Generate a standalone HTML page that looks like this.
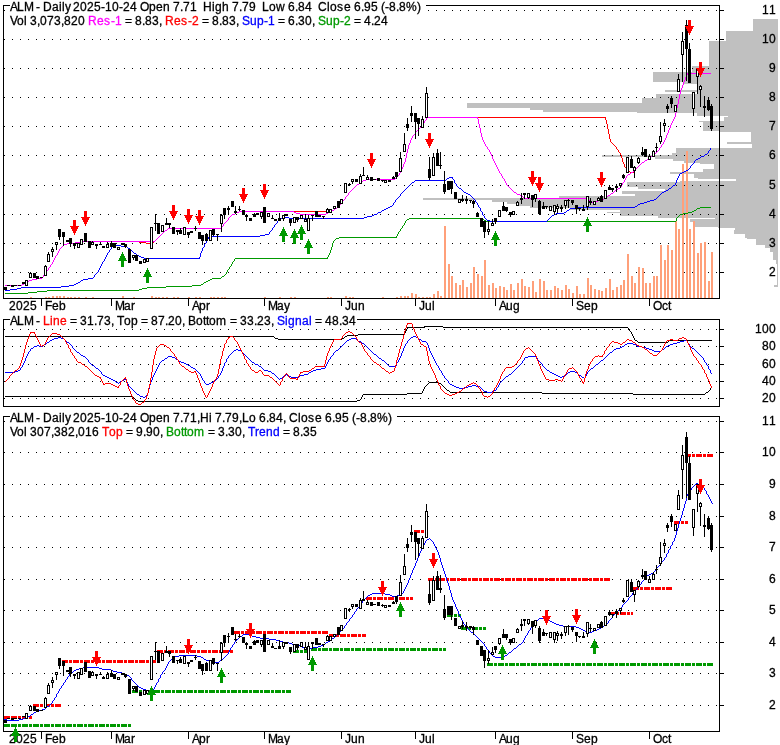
<!DOCTYPE html><html><head><meta charset="utf-8"><title>ALM</title><style>html,body{margin:0;padding:0;background:#fff}svg{display:block}text{white-space:pre;stroke-width:0.3px}</style></head><body><svg width="780" height="745" viewBox="0 0 780 745" shape-rendering="crispEdges" font-family="Liberation Sans, sans-serif" font-size="12px" fill="#000">
<rect x="0" y="0" width="780" height="745" fill="#fff"/>
<rect x="753" y="19" width="25" height="12" fill="#c0c0c0"/>
<rect x="726" y="31" width="52" height="10" fill="#c0c0c0"/>
<rect x="709" y="41" width="69" height="25" fill="#c0c0c0"/>
<rect x="692" y="66" width="86" height="6" fill="#c0c0c0"/>
<rect x="653" y="72" width="125" height="10" fill="#c0c0c0"/>
<rect x="683" y="82" width="95" height="2" fill="#c0c0c0"/>
<rect x="697" y="84" width="81" height="6" fill="#c0c0c0"/>
<rect x="665" y="90" width="113" height="2" fill="#c0c0c0"/>
<rect x="697" y="92" width="81" height="2" fill="#c0c0c0"/>
<rect x="656" y="94" width="122" height="4" fill="#c0c0c0"/>
<rect x="642" y="98" width="136" height="5" fill="#c0c0c0"/>
<rect x="467" y="103" width="311" height="5" fill="#c0c0c0"/>
<rect x="530" y="108" width="248" height="2" fill="#c0c0c0"/>
<rect x="543" y="110" width="235" height="2" fill="#c0c0c0"/>
<rect x="637" y="112" width="141" height="1" fill="#c0c0c0"/>
<rect x="697" y="113" width="81" height="3" fill="#c0c0c0"/>
<rect x="728" y="116" width="50" height="1" fill="#c0c0c0"/>
<rect x="724" y="117" width="54" height="4" fill="#c0c0c0"/>
<rect x="699" y="121" width="79" height="1" fill="#c0c0c0"/>
<rect x="703" y="122" width="75" height="9" fill="#c0c0c0"/>
<rect x="720" y="131" width="58" height="1" fill="#c0c0c0"/>
<rect x="751" y="132" width="27" height="10" fill="#c0c0c0"/>
<rect x="727" y="142" width="51" height="2" fill="#c0c0c0"/>
<rect x="752" y="144" width="26" height="4" fill="#c0c0c0"/>
<rect x="676" y="148" width="102" height="5" fill="#c0c0c0"/>
<rect x="672" y="153" width="106" height="2" fill="#c0c0c0"/>
<rect x="602" y="155" width="176" height="2" fill="#c0c0c0"/>
<rect x="655" y="157" width="123" height="2" fill="#c0c0c0"/>
<rect x="673" y="159" width="105" height="2" fill="#c0c0c0"/>
<rect x="684" y="161" width="94" height="2" fill="#c0c0c0"/>
<rect x="700" y="163" width="78" height="1" fill="#c0c0c0"/>
<rect x="714" y="164" width="64" height="5" fill="#c0c0c0"/>
<rect x="703" y="169" width="75" height="3" fill="#c0c0c0"/>
<rect x="670" y="172" width="108" height="2" fill="#c0c0c0"/>
<rect x="694" y="174" width="84" height="4" fill="#c0c0c0"/>
<rect x="698" y="178" width="80" height="1" fill="#c0c0c0"/>
<rect x="736" y="179" width="42" height="2" fill="#c0c0c0"/>
<rect x="680" y="181" width="98" height="1" fill="#c0c0c0"/>
<rect x="627" y="182" width="151" height="5" fill="#c0c0c0"/>
<rect x="638" y="187" width="140" height="2" fill="#c0c0c0"/>
<rect x="665" y="189" width="113" height="2" fill="#c0c0c0"/>
<rect x="622" y="191" width="156" height="3" fill="#c0c0c0"/>
<rect x="635" y="194" width="143" height="2" fill="#c0c0c0"/>
<rect x="559" y="196" width="219" height="2" fill="#c0c0c0"/>
<rect x="423" y="198" width="355" height="2" fill="#c0c0c0"/>
<rect x="492" y="200" width="286" height="2" fill="#c0c0c0"/>
<rect x="507" y="202" width="271" height="2" fill="#c0c0c0"/>
<rect x="516" y="204" width="262" height="2" fill="#c0c0c0"/>
<rect x="530" y="206" width="248" height="2" fill="#c0c0c0"/>
<rect x="570" y="208" width="208" height="2" fill="#c0c0c0"/>
<rect x="620" y="210" width="158" height="2" fill="#c0c0c0"/>
<rect x="607" y="212" width="171" height="1" fill="#c0c0c0"/>
<rect x="620" y="213" width="158" height="3" fill="#c0c0c0"/>
<rect x="658" y="216" width="120" height="2" fill="#c0c0c0"/>
<rect x="715" y="218" width="63" height="1" fill="#c0c0c0"/>
<rect x="690" y="219" width="88" height="3" fill="#c0c0c0"/>
<rect x="695" y="222" width="83" height="5" fill="#c0c0c0"/>
<rect x="718" y="227" width="60" height="1" fill="#c0c0c0"/>
<rect x="735" y="228" width="43" height="2" fill="#c0c0c0"/>
<rect x="734" y="230" width="44" height="4" fill="#c0c0c0"/>
<rect x="745" y="234" width="33" height="4" fill="#c0c0c0"/>
<rect x="747" y="238" width="31" height="1" fill="#c0c0c0"/>
<rect x="756" y="239" width="22" height="6" fill="#c0c0c0"/>
<rect x="765" y="245" width="13" height="3" fill="#c0c0c0"/>
<rect x="770" y="248" width="8" height="4" fill="#c0c0c0"/>
<rect x="773" y="252" width="5" height="8" fill="#c0c0c0"/>
<rect x="776" y="260" width="2" height="4" fill="#c0c0c0"/>
<rect x="777" y="264" width="1" height="21" fill="#c0c0c0"/>
<rect x="774" y="285" width="4" height="2" fill="#c0c0c0"/>
<line x1="4" y1="10.5" x2="719" y2="10.5" stroke="#000" stroke-width="1" stroke-dasharray="1 7"/>
<rect x="720" y="10" width="4" height="1" fill="#000"/>
<line x1="4" y1="39.5" x2="719" y2="39.5" stroke="#000" stroke-width="1" stroke-dasharray="1 7"/>
<rect x="720" y="39" width="4" height="1" fill="#000"/>
<line x1="4" y1="68.5" x2="719" y2="68.5" stroke="#000" stroke-width="1" stroke-dasharray="1 7"/>
<rect x="720" y="68" width="4" height="1" fill="#000"/>
<line x1="4" y1="97.5" x2="719" y2="97.5" stroke="#000" stroke-width="1" stroke-dasharray="1 7"/>
<rect x="720" y="97" width="4" height="1" fill="#000"/>
<line x1="4" y1="126.5" x2="719" y2="126.5" stroke="#000" stroke-width="1" stroke-dasharray="1 7"/>
<rect x="720" y="126" width="4" height="1" fill="#000"/>
<line x1="4" y1="155.5" x2="719" y2="155.5" stroke="#000" stroke-width="1" stroke-dasharray="1 7"/>
<rect x="720" y="155" width="4" height="1" fill="#000"/>
<line x1="4" y1="185.5" x2="719" y2="185.5" stroke="#000" stroke-width="1" stroke-dasharray="1 7"/>
<rect x="720" y="185" width="4" height="1" fill="#000"/>
<line x1="4" y1="214.5" x2="719" y2="214.5" stroke="#000" stroke-width="1" stroke-dasharray="1 7"/>
<rect x="720" y="214" width="4" height="1" fill="#000"/>
<line x1="4" y1="243.5" x2="719" y2="243.5" stroke="#000" stroke-width="1" stroke-dasharray="1 7"/>
<rect x="720" y="243" width="4" height="1" fill="#000"/>
<line x1="4" y1="272.5" x2="719" y2="272.5" stroke="#000" stroke-width="1" stroke-dasharray="1 7"/>
<rect x="720" y="272" width="4" height="1" fill="#000"/>
<rect x="400" y="296" width="2" height="2" fill="#ffa07a"/>
<rect x="404" y="296" width="2" height="2" fill="#ffa07a"/>
<rect x="407" y="296" width="2" height="2" fill="#ffa07a"/>
<rect x="411" y="293" width="2" height="5" fill="#ffa07a"/>
<rect x="415" y="294" width="2" height="4" fill="#ffa07a"/>
<rect x="418" y="297" width="2" height="1" fill="#ffa07a"/>
<rect x="422" y="297" width="2" height="1" fill="#ffa07a"/>
<rect x="426" y="297" width="2" height="1" fill="#ffa07a"/>
<rect x="429" y="297" width="2" height="1" fill="#ffa07a"/>
<rect x="433" y="294" width="2" height="4" fill="#ffa07a"/>
<rect x="437" y="291" width="2" height="7" fill="#ffa07a"/>
<rect x="440" y="296" width="2" height="2" fill="#ffa07a"/>
<rect x="444" y="226" width="2" height="72" fill="#ffa07a"/>
<rect x="448" y="264" width="2" height="34" fill="#ffa07a"/>
<rect x="451" y="276" width="2" height="22" fill="#ffa07a"/>
<rect x="455" y="283" width="2" height="15" fill="#ffa07a"/>
<rect x="459" y="285" width="2" height="13" fill="#ffa07a"/>
<rect x="462" y="280" width="2" height="18" fill="#ffa07a"/>
<rect x="466" y="287" width="2" height="11" fill="#ffa07a"/>
<rect x="470" y="283" width="2" height="15" fill="#ffa07a"/>
<rect x="473" y="267" width="2" height="31" fill="#ffa07a"/>
<rect x="477" y="274" width="2" height="24" fill="#ffa07a"/>
<rect x="481" y="276" width="2" height="22" fill="#ffa07a"/>
<rect x="484" y="260" width="2" height="38" fill="#ffa07a"/>
<rect x="488" y="285" width="2" height="13" fill="#ffa07a"/>
<rect x="492" y="283" width="2" height="15" fill="#ffa07a"/>
<rect x="495" y="288" width="2" height="10" fill="#ffa07a"/>
<rect x="499" y="286" width="2" height="12" fill="#ffa07a"/>
<rect x="503" y="287" width="2" height="11" fill="#ffa07a"/>
<rect x="506" y="290" width="2" height="8" fill="#ffa07a"/>
<rect x="510" y="284" width="2" height="14" fill="#ffa07a"/>
<rect x="513" y="290" width="2" height="8" fill="#ffa07a"/>
<rect x="517" y="283" width="2" height="15" fill="#ffa07a"/>
<rect x="521" y="279" width="2" height="19" fill="#ffa07a"/>
<rect x="524" y="286" width="2" height="12" fill="#ffa07a"/>
<rect x="528" y="287" width="2" height="11" fill="#ffa07a"/>
<rect x="532" y="281" width="2" height="17" fill="#ffa07a"/>
<rect x="535" y="292" width="2" height="6" fill="#ffa07a"/>
<rect x="539" y="279" width="2" height="19" fill="#ffa07a"/>
<rect x="543" y="281" width="2" height="17" fill="#ffa07a"/>
<rect x="546" y="290" width="2" height="8" fill="#ffa07a"/>
<rect x="550" y="290" width="2" height="8" fill="#ffa07a"/>
<rect x="554" y="286" width="2" height="12" fill="#ffa07a"/>
<rect x="557" y="288" width="2" height="10" fill="#ffa07a"/>
<rect x="561" y="290" width="2" height="8" fill="#ffa07a"/>
<rect x="565" y="285" width="2" height="13" fill="#ffa07a"/>
<rect x="568" y="289" width="2" height="9" fill="#ffa07a"/>
<rect x="572" y="293" width="2" height="5" fill="#ffa07a"/>
<rect x="576" y="286" width="2" height="12" fill="#ffa07a"/>
<rect x="579" y="294" width="2" height="4" fill="#ffa07a"/>
<rect x="583" y="294" width="2" height="4" fill="#ffa07a"/>
<rect x="587" y="278" width="2" height="20" fill="#ffa07a"/>
<rect x="590" y="285" width="2" height="13" fill="#ffa07a"/>
<rect x="594" y="289" width="2" height="9" fill="#ffa07a"/>
<rect x="598" y="290" width="2" height="8" fill="#ffa07a"/>
<rect x="601" y="291" width="2" height="7" fill="#ffa07a"/>
<rect x="605" y="288" width="2" height="10" fill="#ffa07a"/>
<rect x="609" y="279" width="2" height="19" fill="#ffa07a"/>
<rect x="612" y="290" width="2" height="8" fill="#ffa07a"/>
<rect x="616" y="287" width="2" height="11" fill="#ffa07a"/>
<rect x="620" y="285" width="2" height="13" fill="#ffa07a"/>
<rect x="623" y="280" width="2" height="18" fill="#ffa07a"/>
<rect x="627" y="254" width="2" height="44" fill="#ffa07a"/>
<rect x="631" y="276" width="2" height="22" fill="#ffa07a"/>
<rect x="634" y="283" width="2" height="15" fill="#ffa07a"/>
<rect x="638" y="267" width="2" height="31" fill="#ffa07a"/>
<rect x="642" y="268" width="2" height="30" fill="#ffa07a"/>
<rect x="645" y="283" width="2" height="15" fill="#ffa07a"/>
<rect x="649" y="283" width="2" height="15" fill="#ffa07a"/>
<rect x="653" y="276" width="2" height="22" fill="#ffa07a"/>
<rect x="656" y="276" width="2" height="22" fill="#ffa07a"/>
<rect x="660" y="245" width="2" height="53" fill="#ffa07a"/>
<rect x="664" y="260" width="2" height="38" fill="#ffa07a"/>
<rect x="667" y="245" width="2" height="53" fill="#ffa07a"/>
<rect x="671" y="250" width="2" height="48" fill="#ffa07a"/>
<rect x="675" y="221" width="2" height="77" fill="#ffa07a"/>
<rect x="678" y="229" width="2" height="69" fill="#ffa07a"/>
<rect x="682" y="164" width="2" height="134" fill="#ffa07a"/>
<rect x="686" y="151" width="2" height="147" fill="#ffa07a"/>
<rect x="689" y="229" width="2" height="69" fill="#ffa07a"/>
<rect x="693" y="221" width="2" height="77" fill="#ffa07a"/>
<rect x="697" y="253" width="2" height="45" fill="#ffa07a"/>
<rect x="700" y="243" width="2" height="55" fill="#ffa07a"/>
<rect x="704" y="242" width="2" height="56" fill="#ffa07a"/>
<rect x="708" y="281" width="2" height="17" fill="#ffa07a"/>
<rect x="711" y="252" width="2" height="46" fill="#ffa07a"/>
<rect x="30" y="297" width="2" height="1" fill="#ffa07a"/>
<rect x="45" y="297" width="2" height="1" fill="#ffa07a"/>
<rect x="48" y="297" width="2" height="1" fill="#ffa07a"/>
<rect x="52" y="296" width="2" height="2" fill="#ffa07a"/>
<rect x="56" y="296" width="2" height="2" fill="#ffa07a"/>
<rect x="59" y="296" width="2" height="2" fill="#ffa07a"/>
<rect x="63" y="296" width="2" height="2" fill="#ffa07a"/>
<rect x="67" y="297" width="2" height="1" fill="#ffa07a"/>
<rect x="70" y="297" width="2" height="1" fill="#ffa07a"/>
<rect x="74" y="297" width="2" height="1" fill="#ffa07a"/>
<rect x="78" y="297" width="2" height="1" fill="#ffa07a"/>
<rect x="85" y="297" width="2" height="1" fill="#ffa07a"/>
<rect x="92" y="297" width="2" height="1" fill="#ffa07a"/>
<rect x="122" y="296" width="2" height="2" fill="#ffa07a"/>
<rect x="133" y="297" width="2" height="1" fill="#ffa07a"/>
<rect x="151" y="296" width="2" height="2" fill="#ffa07a"/>
<rect x="155" y="297" width="2" height="1" fill="#ffa07a"/>
<rect x="158" y="297" width="2" height="1" fill="#ffa07a"/>
<rect x="162" y="297" width="2" height="1" fill="#ffa07a"/>
<rect x="166" y="297" width="2" height="1" fill="#ffa07a"/>
<rect x="173" y="297" width="2" height="1" fill="#ffa07a"/>
<rect x="177" y="297" width="2" height="1" fill="#ffa07a"/>
<rect x="188" y="297" width="2" height="1" fill="#ffa07a"/>
<rect x="195" y="297" width="2" height="1" fill="#ffa07a"/>
<rect x="199" y="297" width="2" height="1" fill="#ffa07a"/>
<rect x="210" y="297" width="2" height="1" fill="#ffa07a"/>
<rect x="213" y="297" width="2" height="1" fill="#ffa07a"/>
<rect x="217" y="297" width="2" height="1" fill="#ffa07a"/>
<rect x="221" y="297" width="2" height="1" fill="#ffa07a"/>
<rect x="224" y="297" width="2" height="1" fill="#ffa07a"/>
<rect x="264" y="297" width="2" height="1" fill="#ffa07a"/>
<rect x="279" y="297" width="2" height="1" fill="#ffa07a"/>
<rect x="290" y="297" width="2" height="1" fill="#ffa07a"/>
<rect x="294" y="297" width="2" height="1" fill="#ffa07a"/>
<rect x="327" y="297" width="2" height="1" fill="#ffa07a"/>
<rect x="330" y="297" width="2" height="1" fill="#ffa07a"/>
<rect x="345" y="296" width="2" height="2" fill="#ffa07a"/>
<rect x="349" y="297" width="2" height="1" fill="#ffa07a"/>
<rect x="352" y="297" width="2" height="1" fill="#ffa07a"/>
<rect x="382" y="297" width="2" height="1" fill="#ffa07a"/>
<rect x="396" y="297" width="2" height="1" fill="#ffa07a"/>
<path fill="#009900" d="M5 293h23v1h-23zM28 292h9v1h-9zM37 291h10v1h-10zM47 290h92v1h-92zM139 289h3v1h-3zM142 288h5v1h-5zM147 287h19v1h-19zM166 286h26v1h-26zM192 285h9v1h-9zM201 284h2v1h-2zM203 283h1v1h-1zM204 282h2v1h-2zM206 281h2v1h-2zM208 280h2v1h-2zM210 279h2v1h-2zM212 278h9v1h-9zM221 277h1v1h-1zM222 276h2v1h-2zM224 275h1v1h-1zM225 274h1v1h-1zM226 272h1v2h-1zM227 270h1v2h-1zM228 269h1v1h-1zM229 267h1v2h-1zM230 266h1v1h-1zM231 264h1v2h-1zM232 262h1v2h-1zM233 261h1v1h-1zM234 259h1v2h-1zM235 258h93v1h-93zM327 257h1v1h-1zM328 255h1v2h-1zM329 253h1v2h-1zM330 250h1v3h-1zM331 247h1v3h-1zM332 243h1v4h-1zM333 241h1v2h-1zM334 240h1v1h-1zM335 239h1v1h-1zM336 238h3v1h-3zM339 237h58v1h-58zM396 236h1v1h-1zM397 234h1v2h-1zM398 232h1v2h-1zM399 231h1v1h-1zM400 229h1v2h-1zM401 228h1v1h-1zM402 226h1v2h-1zM403 225h1v1h-1zM404 223h1v2h-1zM405 221h1v2h-1zM406 220h1v1h-1zM407 219h2v1h-2zM409 218h73v1h-73zM482 219h2v1h-2zM484 220h2v1h-2zM486 221h190v1h-190zM676 218h1v3h-1zM677 217h1v1h-1zM678 216h1v1h-1zM679 215h1v1h-1zM680 214h3v1h-3zM683 213h5v1h-5zM688 212h4v1h-4zM692 211h2v1h-2zM694 210h2v1h-2zM696 209h1v1h-1zM697 208h3v1h-3zM700 207h11v1h-11z"/>
<path fill="#0000ff" d="M5 290h5v1h-5zM10 289h7v1h-7zM17 288h4v1h-4zM21 287h40v1h-40zM61 286h8v1h-8zM69 285h5v1h-5zM74 284h2v1h-2zM76 283h2v1h-2zM78 282h2v1h-2zM80 281h1v1h-1zM81 280h2v1h-2zM83 279h5v1h-5zM88 278h5v1h-5zM93 277h1v1h-1zM94 275h1v2h-1zM95 274h1v1h-1zM96 273h1v1h-1zM97 272h1v1h-1zM98 270h1v2h-1zM99 268h1v2h-1zM100 266h1v2h-1zM101 264h1v2h-1zM102 262h1v2h-1zM103 261h1v1h-1zM104 259h1v2h-1zM105 257h1v2h-1zM106 255h1v2h-1zM107 253h1v2h-1zM108 252h1v1h-1zM109 250h1v2h-1zM110 249h1v1h-1zM111 247h1v2h-1zM112 246h3v1h-3zM115 245h6v1h-6zM121 246h6v1h-6zM127 247h1v1h-1zM128 248h2v1h-2zM130 249h1v1h-1zM131 250h1v1h-1zM132 251h1v1h-1zM133 252h1v1h-1zM134 253h2v1h-2zM136 254h1v1h-1zM137 255h2v1h-2zM139 256h2v1h-2zM141 257h3v1h-3zM144 258h56v1h-56zM199 257h1v1h-1zM200 253h1v4h-1zM201 251h1v2h-1zM202 248h1v3h-1zM203 247h1v1h-1zM204 244h1v3h-1zM205 243h1v1h-1zM206 240h1v3h-1zM207 239h1v1h-1zM208 238h1v1h-1zM208 237h2v1h-2zM210 236h50v1h-50zM260 235h5v1h-5zM265 234h4v1h-4zM269 232h1v2h-1zM270 231h1v1h-1zM271 230h1v1h-1zM272 228h1v2h-1zM273 227h1v1h-1zM274 225h1v2h-1zM275 224h1v1h-1zM276 223h1v1h-1zM277 221h1v2h-1zM278 220h1v1h-1zM279 219h2v1h-2zM281 218h4v1h-4zM285 217h4v1h-4zM289 218h75v1h-75zM364 217h3v1h-3zM367 216h5v1h-5zM372 215h2v1h-2zM374 214h3v1h-3zM377 213h1v1h-1zM378 212h3v1h-3zM381 211h1v1h-1zM382 210h2v1h-2zM384 209h2v1h-2zM386 208h2v1h-2zM388 207h2v1h-2zM390 206h2v1h-2zM392 205h1v1h-1zM393 203h1v2h-1zM394 202h1v1h-1zM395 200h1v2h-1zM396 199h1v1h-1zM397 198h1v1h-1zM398 197h1v1h-1zM399 196h1v1h-1zM400 194h1v2h-1zM401 193h1v1h-1zM402 192h1v1h-1zM403 191h1v1h-1zM404 190h1v1h-1zM405 189h1v1h-1zM406 188h1v1h-1zM407 187h1v1h-1zM408 186h1v1h-1zM409 185h1v1h-1zM410 184h1v1h-1zM411 183h1v1h-1zM412 182h2v1h-2zM414 181h1v1h-1zM415 180h31v1h-31zM446 179h1v1h-1zM447 178h2v1h-2zM449 177h4v1h-4zM452 178h1v1h-1zM453 179h1v1h-1zM454 180h1v3h-1zM455 183h1v1h-1zM456 184h1v2h-1zM457 186h1v1h-1zM458 187h1v1h-1zM459 188h2v1h-2zM461 189h1v1h-1zM462 190h1v1h-1zM463 191h1v1h-1zM464 192h2v1h-2zM466 193h2v1h-2zM468 194h2v1h-2zM470 195h1v1h-1zM471 196h1v1h-1zM472 197h1v1h-1zM473 198h1v1h-1zM474 199h1v1h-1zM475 200h1v2h-1zM476 202h1v1h-1zM477 203h1v2h-1zM478 205h1v2h-1zM479 207h1v1h-1zM480 208h1v3h-1zM481 211h1v1h-1zM482 212h1v3h-1zM483 215h1v1h-1zM484 216h1v2h-1zM485 218h1v1h-1zM486 219h1v1h-1zM487 220h3v1h-3zM490 221h57v1h-57zM547 220h1v1h-1zM548 219h1v1h-1zM549 218h1v1h-1zM550 217h1v1h-1zM551 216h1v1h-1zM552 215h2v1h-2zM554 214h2v1h-2zM556 213h8v1h-8zM564 212h2v1h-2zM566 211h1v1h-1zM567 210h2v1h-2zM569 209h1v1h-1zM570 208h6v1h-6zM576 207h59v1h-59zM635 206h2v1h-2zM637 205h1v1h-1zM638 204h2v1h-2zM640 203h4v1h-4zM644 202h3v1h-3zM647 201h3v1h-3zM650 200h4v1h-4zM654 199h2v1h-2zM656 198h1v1h-1zM657 197h1v1h-1zM658 196h1v1h-1zM659 195h1v1h-1zM660 194h1v1h-1zM661 193h1v1h-1zM662 192h2v1h-2zM664 191h2v1h-2zM666 190h2v1h-2zM668 189h1v1h-1zM669 188h2v1h-2zM671 187h1v1h-1zM672 186h1v1h-1zM673 185h2v1h-2zM675 183h1v2h-1zM676 180h1v3h-1zM677 178h1v2h-1zM678 176h1v2h-1zM679 174h1v2h-1zM680 173h2v1h-2zM682 172h2v1h-2zM684 171h2v1h-2zM686 170h2v1h-2zM688 169h1v1h-1zM689 168h1v1h-1zM690 166h1v2h-1zM691 165h1v1h-1zM692 164h1v1h-1zM693 163h1v1h-1zM694 161h1v2h-1zM695 160h1v1h-1zM696 159h2v1h-2zM698 158h2v1h-2zM700 157h1v1h-1zM701 156h3v1h-3zM704 155h1v1h-1zM705 154h2v1h-2zM707 153h1v1h-1zM708 151h1v2h-1zM709 150h1v1h-1zM710 148h1v2h-1z"/>
<path fill="#ff0000" d="M5 285h17v1h-17zM22 284h2v1h-2zM24 283h2v1h-2zM26 282h2v1h-2zM28 281h1v1h-1zM29 280h3v1h-3zM32 279h5v1h-5zM37 278h5v1h-5zM42 277h1v1h-1zM43 275h1v2h-1zM44 274h1v1h-1zM45 273h1v1h-1zM46 271h1v2h-1zM47 270h1v1h-1zM48 268h1v2h-1zM49 267h1v1h-1zM50 265h1v2h-1zM51 264h1v1h-1zM52 262h1v2h-1zM53 260h1v2h-1zM54 258h1v2h-1zM55 256h1v2h-1zM56 255h1v1h-1zM57 253h1v2h-1zM58 251h1v2h-1zM59 249h1v2h-1zM60 248h1v1h-1zM61 247h1v1h-1zM62 246h1v1h-1zM63 245h1v1h-1zM64 244h3v1h-3zM67 243h8v1h-8zM75 242h8v1h-8zM83 241h56v1h-56zM139 242h7v1h-7zM146 243h5v1h-5zM151 242h3v1h-3zM154 241h1v1h-1zM155 240h1v1h-1zM156 239h1v1h-1zM157 238h1v1h-1zM158 237h1v1h-1zM159 236h1v1h-1zM160 235h1v1h-1zM161 234h1v1h-1zM162 233h1v1h-1zM163 232h1v1h-1zM164 231h1v1h-1zM165 230h2v1h-2zM167 229h1v1h-1zM168 228h53v1h-53zM221 227h1v1h-1zM222 226h1v1h-1zM223 224h1v2h-1zM224 223h1v1h-1zM225 222h1v1h-1zM226 221h1v1h-1zM227 220h1v1h-1zM228 218h1v2h-1zM229 217h1v1h-1zM230 216h1v1h-1zM231 215h1v1h-1zM232 214h3v1h-3zM235 213h1v1h-1zM236 212h3v1h-3zM239 211h92v1h-92zM331 210h3v1h-3zM334 209h1v1h-1zM335 208h2v1h-2zM337 207h1v1h-1zM338 206h1v1h-1zM339 205h1v1h-1zM340 203h1v2h-1zM341 202h1v1h-1zM342 201h1v1h-1zM343 200h1v1h-1zM344 199h1v1h-1zM345 197h1v2h-1zM346 196h1v1h-1zM347 195h1v1h-1zM348 193h1v2h-1zM349 192h1v1h-1zM350 191h1v1h-1zM351 190h1v1h-1zM352 189h1v1h-1zM353 188h1v1h-1zM354 187h1v1h-1zM355 186h1v1h-1zM356 185h1v1h-1zM357 184h2v1h-2zM359 183h1v1h-1zM360 182h1v1h-1zM361 181h2v1h-2zM363 180h3v1h-3zM366 179h29v1h-29zM395 178h1v1h-1zM396 177h1v1h-1zM397 176h1v1h-1zM398 175h1v1h-1zM399 173h1v2h-1zM400 171h1v2h-1zM401 169h1v2h-1zM402 167h1v2h-1zM403 164h1v3h-1zM404 162h1v2h-1zM405 158h1v4h-1zM406 153h1v5h-1zM407 149h1v4h-1zM408 145h1v4h-1zM409 143h1v2h-1zM410 140h1v3h-1zM411 138h1v2h-1zM412 136h1v2h-1zM413 135h1v1h-1zM414 134h1v1h-1zM415 132h1v2h-1zM416 131h1v1h-1zM417 130h1v1h-1zM418 129h1v1h-1zM419 128h1v1h-1zM420 127h1v1h-1zM421 126h1v1h-1zM422 124h1v2h-1zM423 123h1v1h-1zM424 121h1v2h-1zM425 120h1v1h-1zM426 118h1v2h-1zM427 117h179v1h-179zM605 118h1v2h-1zM606 120h1v4h-1zM607 124h1v5h-1zM608 129h1v5h-1zM609 134h1v5h-1zM610 139h1v3h-1zM611 142h1v1h-1zM612 143h1v1h-1zM613 144h1v1h-1zM614 145h1v1h-1zM615 146h1v1h-1zM616 147h1v2h-1zM617 149h1v1h-1zM618 150h1v2h-1zM619 152h1v1h-1zM620 153h1v2h-1zM621 155h1v3h-1zM622 158h1v4h-1zM623 162h1v2h-1zM624 164h1v3h-1zM625 167h1v1h-1zM626 168h1v3h-1zM627 171h3v1h-3zM630 172h4v1h-4z"/>
<path fill="#ff00ff" d="M5 285h17v1h-17zM22 284h2v1h-2zM24 283h2v1h-2zM26 282h2v1h-2zM28 281h1v1h-1zM29 280h3v1h-3zM32 279h5v1h-5zM37 278h5v1h-5zM42 277h1v1h-1zM43 275h1v2h-1zM44 274h1v1h-1zM45 273h1v1h-1zM46 271h1v2h-1zM47 270h1v1h-1zM48 268h1v2h-1zM49 267h1v1h-1zM50 265h1v2h-1zM51 264h1v1h-1zM52 262h1v2h-1zM53 260h1v2h-1zM54 258h1v2h-1zM55 256h1v2h-1zM56 255h1v1h-1zM57 253h1v2h-1zM58 251h1v2h-1zM59 249h1v2h-1zM60 248h1v1h-1zM61 247h1v1h-1zM62 246h1v1h-1zM63 245h1v1h-1zM64 244h3v1h-3zM67 243h8v1h-8zM75 242h8v1h-8zM83 241h72v1h-72zM155 240h1v1h-1zM156 239h1v1h-1zM157 238h1v1h-1zM158 237h1v1h-1zM159 236h1v1h-1zM160 235h1v1h-1zM161 234h1v1h-1zM162 233h1v1h-1zM163 232h1v1h-1zM164 231h1v1h-1zM165 230h2v1h-2zM167 229h1v1h-1zM168 228h53v1h-53zM221 227h1v1h-1zM222 226h1v1h-1zM223 224h1v2h-1zM224 223h1v1h-1zM225 222h1v1h-1zM226 221h1v1h-1zM227 220h1v1h-1zM228 218h1v2h-1zM229 217h1v1h-1zM230 216h1v1h-1zM231 215h1v1h-1zM232 214h3v1h-3zM235 213h1v1h-1zM236 212h3v1h-3zM239 211h55v1h-55zM294 212h2v1h-2zM296 213h4v1h-4zM300 214h26v1h-26zM326 213h2v1h-2zM328 212h2v1h-2zM330 211h1v1h-1zM331 210h3v1h-3zM334 209h1v1h-1zM335 208h2v1h-2zM337 207h1v1h-1zM338 206h1v1h-1zM339 205h1v1h-1zM340 203h1v2h-1zM341 202h1v1h-1zM342 201h1v1h-1zM343 200h1v1h-1zM344 199h1v1h-1zM345 197h1v2h-1zM346 196h1v1h-1zM347 195h1v1h-1zM348 193h1v2h-1zM349 192h1v1h-1zM350 191h1v1h-1zM351 190h1v1h-1zM352 189h1v1h-1zM353 188h1v1h-1zM354 187h1v1h-1zM355 186h1v1h-1zM356 185h1v1h-1zM357 184h2v1h-2zM359 183h1v1h-1zM360 182h1v1h-1zM361 181h2v1h-2zM363 180h3v1h-3zM366 179h29v1h-29zM395 178h1v1h-1zM396 177h1v1h-1zM397 176h1v1h-1zM398 175h1v1h-1zM399 173h1v2h-1zM400 171h1v2h-1zM401 169h1v2h-1zM402 167h1v2h-1zM403 164h1v3h-1zM404 162h1v2h-1zM405 158h1v4h-1zM406 153h1v5h-1zM407 149h1v4h-1zM408 145h1v4h-1zM409 143h1v2h-1zM410 140h1v3h-1zM411 138h1v2h-1zM412 136h1v2h-1zM413 135h1v1h-1zM414 134h1v1h-1zM415 132h1v2h-1zM416 131h1v1h-1zM417 130h1v1h-1zM418 129h1v1h-1zM419 128h1v1h-1zM420 127h1v1h-1zM421 126h1v1h-1zM422 124h1v2h-1zM423 123h1v1h-1zM424 121h1v2h-1zM425 120h1v1h-1zM426 118h1v2h-1zM427 117h51v1h-51zM477 118h1v1h-1zM478 119h1v5h-1zM479 124h1v4h-1zM480 128h1v5h-1zM481 133h1v4h-1zM482 137h1v3h-1zM483 140h1v2h-1zM484 142h1v2h-1zM485 144h1v2h-1zM486 146h1v1h-1zM487 147h1v2h-1zM488 149h1v1h-1zM489 150h1v2h-1zM490 152h1v2h-1zM491 154h1v2h-1zM492 156h1v3h-1zM493 159h1v2h-1zM494 161h1v2h-1zM495 163h1v2h-1zM496 165h1v2h-1zM497 167h1v2h-1zM498 169h1v2h-1zM499 171h1v2h-1zM500 173h1v1h-1zM501 174h1v2h-1zM502 176h1v2h-1zM503 178h1v1h-1zM504 179h1v2h-1zM505 181h1v2h-1zM506 183h1v2h-1zM507 185h1v1h-1zM508 186h1v1h-1zM509 187h1v1h-1zM510 188h1v1h-1zM511 189h1v1h-1zM512 190h1v1h-1zM513 191h1v1h-1zM514 192h2v1h-2zM516 193h1v1h-1zM517 194h3v1h-3zM520 195h1v1h-1zM521 196h2v1h-2zM523 197h2v1h-2zM525 198h62v1h-62zM587 199h1v1h-1zM588 200h2v1h-2zM590 201h1v1h-1zM591 202h3v1h-3zM594 201h4v1h-4zM598 200h4v1h-4zM602 199h2v1h-2zM604 198h2v1h-2zM606 197h1v1h-1zM607 196h1v1h-1zM608 195h2v1h-2zM610 194h1v1h-1zM611 193h2v1h-2zM613 192h1v1h-1zM614 191h1v1h-1zM615 190h2v1h-2zM617 189h1v1h-1zM618 188h2v1h-2zM620 187h1v1h-1zM621 185h1v2h-1zM622 183h1v2h-1zM623 182h1v1h-1zM624 180h1v2h-1zM625 178h1v2h-1zM626 176h1v2h-1zM627 175h1v1h-1zM628 174h2v1h-2zM630 173h1v1h-1zM631 172h2v1h-2zM633 171h1v1h-1zM634 170h1v1h-1zM635 169h1v1h-1zM636 168h1v1h-1zM637 167h1v1h-1zM638 166h1v1h-1zM639 165h1v1h-1zM640 164h1v1h-1zM641 163h1v1h-1zM642 162h2v1h-2zM644 161h1v1h-1zM645 160h2v1h-2zM647 159h1v1h-1zM648 158h2v1h-2zM650 157h1v1h-1zM651 156h1v1h-1zM652 155h1v1h-1zM653 154h2v1h-2zM655 153h1v1h-1zM656 152h1v1h-1zM657 151h1v1h-1zM658 150h1v1h-1zM659 148h1v2h-1zM660 147h1v1h-1zM661 145h1v2h-1zM662 144h1v1h-1zM663 142h1v2h-1zM664 140h1v2h-1zM665 138h1v2h-1zM666 135h1v3h-1zM667 133h1v2h-1zM668 130h1v3h-1zM669 128h1v2h-1zM670 125h1v3h-1zM671 123h1v2h-1zM672 121h1v2h-1zM673 119h1v2h-1zM674 117h1v2h-1zM675 113h1v4h-1zM676 108h1v5h-1zM677 104h1v4h-1zM678 99h1v5h-1zM679 94h1v5h-1zM680 90h1v4h-1zM681 88h1v2h-1zM682 85h1v3h-1zM683 82h1v3h-1zM684 80h1v2h-1zM685 77h1v3h-1zM686 75h1v2h-1zM687 74h1v1h-1zM687 73h24v1h-24z"/>
<rect x="4" y="287" width="3" height="3" fill="#000"/>
<rect x="7" y="285" width="3" height="1" fill="#000"/>
<rect x="11" y="285" width="3" height="2" fill="#000"/>
<rect x="14" y="285" width="3" height="1" fill="#000"/>
<rect x="18" y="285" width="3" height="1" fill="#000"/>
<rect x="22" y="282" width="3" height="2" fill="#000"/>
<rect x="25" y="280" width="3" height="6" fill="#000"/>
<rect x="26" y="281" width="1" height="4" fill="#fff"/>
<rect x="30" y="272" width="1" height="1" fill="#000"/>
<rect x="29" y="273" width="3" height="5" fill="#000"/>
<rect x="30" y="274" width="1" height="3" fill="#fff"/>
<rect x="33" y="273" width="3" height="5" fill="#000"/>
<rect x="36" y="276" width="3" height="3" fill="#000"/>
<rect x="40" y="277" width="3" height="1" fill="#000"/>
<rect x="45" y="265" width="1" height="1" fill="#000"/>
<rect x="44" y="266" width="3" height="10" fill="#000"/>
<rect x="45" y="267" width="1" height="8" fill="#fff"/>
<rect x="48" y="252" width="1" height="2" fill="#000"/>
<rect x="47" y="254" width="3" height="8" fill="#000"/>
<rect x="48" y="255" width="1" height="6" fill="#fff"/>
<rect x="52" y="247" width="1" height="2" fill="#000"/>
<rect x="52" y="252" width="1" height="5" fill="#000"/>
<rect x="51" y="249" width="3" height="3" fill="#000"/>
<rect x="52" y="250" width="1" height="1" fill="#fff"/>
<rect x="56" y="245" width="1" height="5" fill="#000"/>
<rect x="55" y="242" width="3" height="3" fill="#000"/>
<rect x="56" y="243" width="1" height="1" fill="#fff"/>
<rect x="59" y="237" width="1" height="3" fill="#000"/>
<rect x="58" y="229" width="3" height="8" fill="#000"/>
<rect x="63" y="237" width="1" height="9" fill="#000"/>
<rect x="62" y="232" width="3" height="5" fill="#000"/>
<rect x="66" y="240" width="3" height="2" fill="#000"/>
<rect x="70" y="244" width="1" height="3" fill="#000"/>
<rect x="69" y="238" width="3" height="6" fill="#000"/>
<rect x="74" y="246" width="1" height="3" fill="#000"/>
<rect x="73" y="243" width="3" height="3" fill="#000"/>
<rect x="77" y="243" width="3" height="5" fill="#000"/>
<rect x="78" y="244" width="1" height="3" fill="#fff"/>
<rect x="80" y="239" width="3" height="6" fill="#000"/>
<rect x="81" y="240" width="1" height="4" fill="#fff"/>
<rect x="84" y="233" width="3" height="9" fill="#000"/>
<rect x="88" y="241" width="3" height="7" fill="#000"/>
<rect x="92" y="241" width="1" height="1" fill="#000"/>
<rect x="91" y="242" width="3" height="3" fill="#000"/>
<rect x="92" y="243" width="1" height="1" fill="#fff"/>
<rect x="96" y="246" width="1" height="3" fill="#000"/>
<rect x="95" y="244" width="3" height="2" fill="#000"/>
<rect x="100" y="242" width="1" height="2" fill="#000"/>
<rect x="99" y="244" width="3" height="1" fill="#000"/>
<rect x="102" y="246" width="3" height="2" fill="#000"/>
<rect x="107" y="242" width="1" height="2" fill="#000"/>
<rect x="106" y="244" width="3" height="4" fill="#000"/>
<rect x="107" y="245" width="1" height="2" fill="#fff"/>
<rect x="111" y="241" width="1" height="2" fill="#000"/>
<rect x="110" y="243" width="3" height="4" fill="#000"/>
<rect x="113" y="243" width="3" height="5" fill="#000"/>
<rect x="117" y="247" width="3" height="3" fill="#000"/>
<rect x="118" y="248" width="1" height="1" fill="#fff"/>
<rect x="121" y="243" width="3" height="2" fill="#000"/>
<rect x="125" y="247" width="1" height="1" fill="#000"/>
<rect x="124" y="244" width="3" height="3" fill="#000"/>
<rect x="128" y="249" width="3" height="14" fill="#000"/>
<rect x="133" y="258" width="1" height="2" fill="#000"/>
<rect x="132" y="255" width="3" height="3" fill="#000"/>
<rect x="133" y="256" width="1" height="1" fill="#fff"/>
<rect x="135" y="255" width="3" height="6" fill="#000"/>
<rect x="139" y="261" width="3" height="3" fill="#000"/>
<rect x="143" y="259" width="3" height="4" fill="#000"/>
<rect x="144" y="260" width="1" height="2" fill="#fff"/>
<rect x="146" y="258" width="3" height="4" fill="#000"/>
<rect x="147" y="259" width="1" height="2" fill="#fff"/>
<rect x="150" y="227" width="3" height="22" fill="#000"/>
<rect x="151" y="228" width="1" height="20" fill="#fff"/>
<rect x="155" y="214" width="1" height="9" fill="#000"/>
<rect x="155" y="224" width="1" height="7" fill="#000"/>
<rect x="154" y="223" width="3" height="1" fill="#000"/>
<rect x="157" y="223" width="3" height="11" fill="#000"/>
<rect x="161" y="225" width="3" height="7" fill="#000"/>
<rect x="162" y="226" width="1" height="5" fill="#fff"/>
<rect x="166" y="218" width="1" height="5" fill="#000"/>
<rect x="165" y="223" width="3" height="2" fill="#000"/>
<rect x="169" y="225" width="1" height="3" fill="#000"/>
<rect x="168" y="223" width="3" height="2" fill="#000"/>
<rect x="172" y="227" width="3" height="7" fill="#000"/>
<rect x="177" y="232" width="1" height="3" fill="#000"/>
<rect x="176" y="230" width="3" height="2" fill="#000"/>
<rect x="180" y="228" width="1" height="2" fill="#000"/>
<rect x="179" y="230" width="3" height="4" fill="#000"/>
<rect x="183" y="227" width="3" height="8" fill="#000"/>
<rect x="184" y="228" width="1" height="6" fill="#fff"/>
<rect x="188" y="235" width="1" height="3" fill="#000"/>
<rect x="187" y="232" width="3" height="3" fill="#000"/>
<rect x="190" y="231" width="3" height="2" fill="#000"/>
<rect x="195" y="226" width="1" height="2" fill="#000"/>
<rect x="195" y="229" width="1" height="2" fill="#000"/>
<rect x="194" y="228" width="3" height="1" fill="#000"/>
<rect x="198" y="232" width="3" height="7" fill="#000"/>
<rect x="202" y="241" width="1" height="4" fill="#000"/>
<rect x="201" y="235" width="3" height="6" fill="#000"/>
<rect x="206" y="233" width="1" height="1" fill="#000"/>
<rect x="205" y="234" width="3" height="7" fill="#000"/>
<rect x="209" y="230" width="3" height="11" fill="#000"/>
<rect x="210" y="231" width="1" height="9" fill="#fff"/>
<rect x="213" y="235" width="1" height="1" fill="#000"/>
<rect x="212" y="229" width="3" height="6" fill="#000"/>
<rect x="217" y="235" width="1" height="6" fill="#000"/>
<rect x="216" y="234" width="3" height="1" fill="#000"/>
<rect x="221" y="214" width="1" height="1" fill="#000"/>
<rect x="221" y="224" width="1" height="8" fill="#000"/>
<rect x="220" y="215" width="3" height="9" fill="#000"/>
<rect x="221" y="216" width="1" height="7" fill="#fff"/>
<rect x="224" y="215" width="1" height="4" fill="#000"/>
<rect x="223" y="208" width="3" height="7" fill="#000"/>
<rect x="228" y="206" width="1" height="2" fill="#000"/>
<rect x="228" y="210" width="1" height="5" fill="#000"/>
<rect x="227" y="208" width="3" height="2" fill="#000"/>
<rect x="231" y="201" width="3" height="6" fill="#000"/>
<rect x="235" y="206" width="1" height="5" fill="#000"/>
<rect x="235" y="213" width="1" height="1" fill="#000"/>
<rect x="234" y="211" width="3" height="2" fill="#000"/>
<rect x="239" y="206" width="1" height="3" fill="#000"/>
<rect x="239" y="210" width="1" height="1" fill="#000"/>
<rect x="238" y="209" width="3" height="1" fill="#000"/>
<rect x="242" y="210" width="3" height="5" fill="#000"/>
<rect x="246" y="214" width="1" height="1" fill="#000"/>
<rect x="246" y="217" width="1" height="4" fill="#000"/>
<rect x="245" y="215" width="3" height="2" fill="#000"/>
<rect x="249" y="218" width="3" height="3" fill="#000"/>
<rect x="254" y="213" width="1" height="1" fill="#000"/>
<rect x="253" y="214" width="3" height="3" fill="#000"/>
<rect x="256" y="213" width="3" height="2" fill="#000"/>
<rect x="261" y="217" width="1" height="2" fill="#000"/>
<rect x="260" y="212" width="3" height="5" fill="#000"/>
<rect x="261" y="213" width="1" height="3" fill="#fff"/>
<rect x="263" y="207" width="3" height="16" fill="#000"/>
<rect x="267" y="213" width="3" height="4" fill="#000"/>
<rect x="268" y="214" width="1" height="2" fill="#fff"/>
<rect x="272" y="215" width="1" height="3" fill="#000"/>
<rect x="271" y="218" width="3" height="1" fill="#000"/>
<rect x="274" y="219" width="3" height="2" fill="#000"/>
<rect x="279" y="213" width="1" height="5" fill="#000"/>
<rect x="278" y="218" width="3" height="3" fill="#000"/>
<rect x="283" y="219" width="1" height="2" fill="#000"/>
<rect x="282" y="215" width="3" height="4" fill="#000"/>
<rect x="283" y="216" width="1" height="2" fill="#fff"/>
<rect x="285" y="214" width="3" height="2" fill="#000"/>
<rect x="290" y="223" width="1" height="3" fill="#000"/>
<rect x="289" y="219" width="3" height="4" fill="#000"/>
<rect x="293" y="217" width="3" height="6" fill="#000"/>
<rect x="294" y="218" width="1" height="4" fill="#fff"/>
<rect x="297" y="220" width="1" height="2" fill="#000"/>
<rect x="296" y="217" width="3" height="3" fill="#000"/>
<rect x="300" y="215" width="3" height="4" fill="#000"/>
<rect x="301" y="216" width="1" height="2" fill="#fff"/>
<rect x="305" y="214" width="1" height="5" fill="#000"/>
<rect x="304" y="219" width="3" height="3" fill="#000"/>
<rect x="305" y="220" width="1" height="1" fill="#fff"/>
<rect x="308" y="215" width="1" height="3" fill="#000"/>
<rect x="307" y="218" width="3" height="13" fill="#000"/>
<rect x="308" y="219" width="1" height="11" fill="#fff"/>
<rect x="312" y="216" width="1" height="5" fill="#000"/>
<rect x="311" y="215" width="3" height="1" fill="#000"/>
<rect x="315" y="211" width="3" height="6" fill="#000"/>
<rect x="318" y="215" width="3" height="2" fill="#000"/>
<rect x="323" y="217" width="1" height="2" fill="#000"/>
<rect x="322" y="216" width="3" height="1" fill="#000"/>
<rect x="327" y="208" width="1" height="1" fill="#000"/>
<rect x="326" y="209" width="3" height="4" fill="#000"/>
<rect x="327" y="210" width="1" height="2" fill="#fff"/>
<rect x="329" y="209" width="3" height="4" fill="#000"/>
<rect x="330" y="210" width="1" height="2" fill="#fff"/>
<rect x="333" y="206" width="3" height="3" fill="#000"/>
<rect x="334" y="207" width="1" height="1" fill="#fff"/>
<rect x="337" y="201" width="3" height="7" fill="#000"/>
<rect x="340" y="199" width="3" height="5" fill="#000"/>
<rect x="341" y="200" width="1" height="3" fill="#fff"/>
<rect x="344" y="183" width="3" height="10" fill="#000"/>
<rect x="345" y="184" width="1" height="8" fill="#fff"/>
<rect x="349" y="183" width="1" height="1" fill="#000"/>
<rect x="349" y="185" width="1" height="1" fill="#000"/>
<rect x="348" y="184" width="3" height="1" fill="#000"/>
<rect x="352" y="182" width="1" height="2" fill="#000"/>
<rect x="351" y="179" width="3" height="3" fill="#000"/>
<rect x="352" y="180" width="1" height="1" fill="#fff"/>
<rect x="355" y="179" width="3" height="3" fill="#000"/>
<rect x="360" y="174" width="1" height="2" fill="#000"/>
<rect x="359" y="176" width="3" height="8" fill="#000"/>
<rect x="360" y="177" width="1" height="6" fill="#fff"/>
<rect x="363" y="167" width="1" height="8" fill="#000"/>
<rect x="362" y="175" width="3" height="1" fill="#000"/>
<rect x="367" y="175" width="1" height="2" fill="#000"/>
<rect x="366" y="177" width="3" height="3" fill="#000"/>
<rect x="367" y="178" width="1" height="1" fill="#fff"/>
<rect x="370" y="177" width="3" height="4" fill="#000"/>
<rect x="373" y="179" width="3" height="1" fill="#000"/>
<rect x="377" y="178" width="3" height="3" fill="#000"/>
<rect x="382" y="181" width="1" height="1" fill="#000"/>
<rect x="381" y="180" width="3" height="1" fill="#000"/>
<rect x="384" y="180" width="3" height="3" fill="#000"/>
<rect x="385" y="181" width="1" height="1" fill="#fff"/>
<rect x="388" y="180" width="3" height="2" fill="#000"/>
<rect x="393" y="176" width="1" height="1" fill="#000"/>
<rect x="392" y="177" width="3" height="2" fill="#000"/>
<rect x="396" y="177" width="1" height="2" fill="#000"/>
<rect x="395" y="172" width="3" height="5" fill="#000"/>
<rect x="400" y="152" width="1" height="6" fill="#000"/>
<rect x="399" y="158" width="3" height="14" fill="#000"/>
<rect x="400" y="159" width="1" height="12" fill="#fff"/>
<rect x="404" y="133" width="1" height="11" fill="#000"/>
<rect x="403" y="144" width="3" height="8" fill="#000"/>
<rect x="404" y="145" width="1" height="6" fill="#fff"/>
<rect x="407" y="118" width="1" height="6" fill="#000"/>
<rect x="407" y="128" width="1" height="3" fill="#000"/>
<rect x="406" y="124" width="3" height="4" fill="#000"/>
<rect x="411" y="106" width="1" height="7" fill="#000"/>
<rect x="411" y="116" width="1" height="6" fill="#000"/>
<rect x="410" y="113" width="3" height="3" fill="#000"/>
<rect x="415" y="122" width="1" height="17" fill="#000"/>
<rect x="414" y="113" width="3" height="9" fill="#000"/>
<rect x="418" y="124" width="1" height="12" fill="#000"/>
<rect x="417" y="118" width="3" height="6" fill="#000"/>
<rect x="422" y="116" width="1" height="3" fill="#000"/>
<rect x="421" y="119" width="3" height="9" fill="#000"/>
<rect x="422" y="120" width="1" height="7" fill="#fff"/>
<rect x="426" y="87" width="1" height="6" fill="#000"/>
<rect x="425" y="93" width="3" height="25" fill="#000"/>
<rect x="426" y="94" width="1" height="23" fill="#fff"/>
<rect x="429" y="157" width="1" height="12" fill="#000"/>
<rect x="429" y="178" width="1" height="2" fill="#000"/>
<rect x="428" y="169" width="3" height="9" fill="#000"/>
<rect x="433" y="153" width="1" height="4" fill="#000"/>
<rect x="432" y="157" width="3" height="19" fill="#000"/>
<rect x="433" y="158" width="1" height="17" fill="#fff"/>
<rect x="437" y="149" width="1" height="4" fill="#000"/>
<rect x="436" y="153" width="3" height="13" fill="#000"/>
<rect x="440" y="152" width="1" height="13" fill="#000"/>
<rect x="440" y="166" width="1" height="3" fill="#000"/>
<rect x="439" y="165" width="3" height="1" fill="#000"/>
<rect x="444" y="171" width="1" height="13" fill="#000"/>
<rect x="444" y="192" width="1" height="2" fill="#000"/>
<rect x="443" y="184" width="3" height="8" fill="#000"/>
<rect x="447" y="181" width="3" height="9" fill="#000"/>
<rect x="451" y="189" width="1" height="5" fill="#000"/>
<rect x="450" y="181" width="3" height="8" fill="#000"/>
<rect x="454" y="192" width="3" height="7" fill="#000"/>
<rect x="458" y="199" width="3" height="4" fill="#000"/>
<rect x="459" y="200" width="1" height="2" fill="#fff"/>
<rect x="462" y="195" width="1" height="4" fill="#000"/>
<rect x="462" y="201" width="1" height="1" fill="#000"/>
<rect x="461" y="199" width="3" height="2" fill="#000"/>
<rect x="466" y="196" width="1" height="3" fill="#000"/>
<rect x="466" y="201" width="1" height="3" fill="#000"/>
<rect x="465" y="199" width="3" height="2" fill="#000"/>
<rect x="470" y="201" width="1" height="2" fill="#000"/>
<rect x="469" y="200" width="3" height="1" fill="#000"/>
<rect x="473" y="200" width="1" height="1" fill="#000"/>
<rect x="473" y="204" width="1" height="4" fill="#000"/>
<rect x="472" y="201" width="3" height="3" fill="#000"/>
<rect x="477" y="212" width="1" height="1" fill="#000"/>
<rect x="476" y="213" width="3" height="4" fill="#000"/>
<rect x="480" y="218" width="3" height="9" fill="#000"/>
<rect x="484" y="232" width="1" height="6" fill="#000"/>
<rect x="483" y="221" width="3" height="11" fill="#000"/>
<rect x="488" y="221" width="1" height="8" fill="#000"/>
<rect x="488" y="232" width="1" height="3" fill="#000"/>
<rect x="487" y="229" width="3" height="3" fill="#000"/>
<rect x="488" y="230" width="1" height="1" fill="#fff"/>
<rect x="492" y="219" width="1" height="4" fill="#000"/>
<rect x="491" y="223" width="3" height="3" fill="#000"/>
<rect x="492" y="224" width="1" height="1" fill="#fff"/>
<rect x="495" y="222" width="1" height="2" fill="#000"/>
<rect x="494" y="218" width="3" height="4" fill="#000"/>
<rect x="498" y="210" width="3" height="7" fill="#000"/>
<rect x="499" y="211" width="1" height="5" fill="#fff"/>
<rect x="503" y="202" width="1" height="4" fill="#000"/>
<rect x="502" y="206" width="3" height="5" fill="#000"/>
<rect x="506" y="211" width="1" height="1" fill="#000"/>
<rect x="505" y="207" width="3" height="4" fill="#000"/>
<rect x="510" y="215" width="1" height="2" fill="#000"/>
<rect x="509" y="212" width="3" height="3" fill="#000"/>
<rect x="512" y="211" width="3" height="4" fill="#000"/>
<rect x="513" y="212" width="1" height="2" fill="#fff"/>
<rect x="517" y="201" width="1" height="1" fill="#000"/>
<rect x="516" y="202" width="3" height="4" fill="#000"/>
<rect x="517" y="203" width="1" height="2" fill="#fff"/>
<rect x="521" y="193" width="1" height="5" fill="#000"/>
<rect x="521" y="200" width="1" height="4" fill="#000"/>
<rect x="520" y="198" width="3" height="2" fill="#000"/>
<rect x="524" y="195" width="1" height="4" fill="#000"/>
<rect x="523" y="193" width="3" height="2" fill="#000"/>
<rect x="528" y="198" width="1" height="1" fill="#000"/>
<rect x="527" y="193" width="3" height="5" fill="#000"/>
<rect x="528" y="194" width="1" height="3" fill="#fff"/>
<rect x="532" y="200" width="1" height="7" fill="#000"/>
<rect x="531" y="195" width="3" height="5" fill="#000"/>
<rect x="535" y="199" width="1" height="3" fill="#000"/>
<rect x="534" y="194" width="3" height="5" fill="#000"/>
<rect x="535" y="195" width="1" height="3" fill="#fff"/>
<rect x="539" y="200" width="1" height="1" fill="#000"/>
<rect x="539" y="214" width="1" height="1" fill="#000"/>
<rect x="538" y="201" width="3" height="13" fill="#000"/>
<rect x="543" y="202" width="1" height="4" fill="#000"/>
<rect x="542" y="206" width="3" height="3" fill="#000"/>
<rect x="546" y="207" width="1" height="2" fill="#000"/>
<rect x="545" y="206" width="3" height="1" fill="#000"/>
<rect x="549" y="206" width="3" height="5" fill="#000"/>
<rect x="550" y="207" width="1" height="3" fill="#fff"/>
<rect x="554" y="212" width="1" height="3" fill="#000"/>
<rect x="553" y="205" width="3" height="7" fill="#000"/>
<rect x="554" y="206" width="1" height="5" fill="#fff"/>
<rect x="557" y="204" width="1" height="2" fill="#000"/>
<rect x="557" y="209" width="1" height="4" fill="#000"/>
<rect x="556" y="206" width="3" height="3" fill="#000"/>
<rect x="557" y="207" width="1" height="1" fill="#fff"/>
<rect x="561" y="205" width="1" height="2" fill="#000"/>
<rect x="561" y="209" width="1" height="3" fill="#000"/>
<rect x="560" y="207" width="3" height="2" fill="#000"/>
<rect x="565" y="206" width="1" height="3" fill="#000"/>
<rect x="564" y="200" width="3" height="6" fill="#000"/>
<rect x="565" y="201" width="1" height="4" fill="#fff"/>
<rect x="568" y="199" width="1" height="1" fill="#000"/>
<rect x="568" y="201" width="1" height="7" fill="#000"/>
<rect x="567" y="200" width="3" height="1" fill="#000"/>
<rect x="572" y="203" width="1" height="2" fill="#000"/>
<rect x="571" y="200" width="3" height="3" fill="#000"/>
<rect x="576" y="209" width="1" height="5" fill="#000"/>
<rect x="575" y="205" width="3" height="4" fill="#000"/>
<rect x="579" y="209" width="1" height="2" fill="#000"/>
<rect x="578" y="208" width="3" height="1" fill="#000"/>
<rect x="583" y="205" width="1" height="4" fill="#000"/>
<rect x="582" y="209" width="3" height="2" fill="#000"/>
<rect x="587" y="207" width="1" height="3" fill="#000"/>
<rect x="586" y="196" width="3" height="11" fill="#000"/>
<rect x="587" y="197" width="1" height="9" fill="#fff"/>
<rect x="590" y="198" width="1" height="3" fill="#000"/>
<rect x="590" y="203" width="1" height="2" fill="#000"/>
<rect x="589" y="201" width="3" height="2" fill="#000"/>
<rect x="593" y="201" width="3" height="4" fill="#000"/>
<rect x="594" y="202" width="1" height="2" fill="#fff"/>
<rect x="598" y="197" width="1" height="1" fill="#000"/>
<rect x="597" y="198" width="3" height="3" fill="#000"/>
<rect x="598" y="199" width="1" height="1" fill="#fff"/>
<rect x="601" y="195" width="1" height="1" fill="#000"/>
<rect x="600" y="196" width="3" height="6" fill="#000"/>
<rect x="604" y="190" width="3" height="9" fill="#000"/>
<rect x="605" y="191" width="1" height="7" fill="#fff"/>
<rect x="609" y="185" width="1" height="2" fill="#000"/>
<rect x="608" y="187" width="3" height="3" fill="#000"/>
<rect x="612" y="190" width="1" height="2" fill="#000"/>
<rect x="611" y="188" width="3" height="2" fill="#000"/>
<rect x="616" y="184" width="1" height="2" fill="#000"/>
<rect x="616" y="188" width="1" height="4" fill="#000"/>
<rect x="615" y="186" width="3" height="2" fill="#000"/>
<rect x="620" y="186" width="1" height="2" fill="#000"/>
<rect x="619" y="183" width="3" height="3" fill="#000"/>
<rect x="620" y="184" width="1" height="1" fill="#fff"/>
<rect x="623" y="174" width="1" height="1" fill="#000"/>
<rect x="623" y="178" width="1" height="1" fill="#000"/>
<rect x="622" y="175" width="3" height="3" fill="#000"/>
<rect x="626" y="157" width="3" height="16" fill="#000"/>
<rect x="627" y="158" width="1" height="14" fill="#fff"/>
<rect x="631" y="156" width="1" height="3" fill="#000"/>
<rect x="630" y="159" width="3" height="9" fill="#000"/>
<rect x="634" y="166" width="1" height="1" fill="#000"/>
<rect x="634" y="171" width="1" height="7" fill="#000"/>
<rect x="633" y="167" width="3" height="4" fill="#000"/>
<rect x="634" y="168" width="1" height="2" fill="#fff"/>
<rect x="638" y="157" width="1" height="1" fill="#000"/>
<rect x="638" y="163" width="1" height="1" fill="#000"/>
<rect x="637" y="158" width="3" height="5" fill="#000"/>
<rect x="638" y="159" width="1" height="3" fill="#fff"/>
<rect x="642" y="147" width="1" height="5" fill="#000"/>
<rect x="642" y="155" width="1" height="1" fill="#000"/>
<rect x="641" y="152" width="3" height="3" fill="#000"/>
<rect x="644" y="149" width="3" height="8" fill="#000"/>
<rect x="649" y="154" width="1" height="2" fill="#000"/>
<rect x="648" y="156" width="3" height="4" fill="#000"/>
<rect x="649" y="157" width="1" height="2" fill="#fff"/>
<rect x="653" y="150" width="1" height="1" fill="#000"/>
<rect x="652" y="151" width="3" height="6" fill="#000"/>
<rect x="653" y="152" width="1" height="4" fill="#fff"/>
<rect x="656" y="143" width="1" height="4" fill="#000"/>
<rect x="656" y="148" width="1" height="4" fill="#000"/>
<rect x="655" y="147" width="3" height="1" fill="#000"/>
<rect x="660" y="122" width="1" height="14" fill="#000"/>
<rect x="660" y="142" width="1" height="2" fill="#000"/>
<rect x="659" y="136" width="3" height="6" fill="#000"/>
<rect x="660" y="137" width="1" height="4" fill="#fff"/>
<rect x="664" y="119" width="1" height="4" fill="#000"/>
<rect x="664" y="126" width="1" height="6" fill="#000"/>
<rect x="663" y="123" width="3" height="3" fill="#000"/>
<rect x="664" y="124" width="1" height="1" fill="#fff"/>
<rect x="667" y="104" width="1" height="2" fill="#000"/>
<rect x="667" y="109" width="1" height="4" fill="#000"/>
<rect x="666" y="106" width="3" height="3" fill="#000"/>
<rect x="671" y="96" width="1" height="2" fill="#000"/>
<rect x="671" y="104" width="1" height="4" fill="#000"/>
<rect x="670" y="98" width="3" height="6" fill="#000"/>
<rect x="674" y="105" width="3" height="7" fill="#000"/>
<rect x="675" y="106" width="1" height="5" fill="#fff"/>
<rect x="678" y="74" width="1" height="5" fill="#000"/>
<rect x="677" y="79" width="3" height="13" fill="#000"/>
<rect x="678" y="80" width="1" height="11" fill="#fff"/>
<rect x="682" y="32" width="1" height="9" fill="#000"/>
<rect x="682" y="55" width="1" height="27" fill="#000"/>
<rect x="681" y="41" width="3" height="14" fill="#000"/>
<rect x="682" y="42" width="1" height="12" fill="#fff"/>
<rect x="686" y="20" width="1" height="5" fill="#000"/>
<rect x="686" y="49" width="1" height="32" fill="#000"/>
<rect x="685" y="25" width="3" height="24" fill="#000"/>
<rect x="689" y="43" width="1" height="6" fill="#000"/>
<rect x="688" y="49" width="3" height="34" fill="#000"/>
<rect x="693" y="109" width="1" height="7" fill="#000"/>
<rect x="692" y="92" width="3" height="17" fill="#000"/>
<rect x="693" y="93" width="1" height="15" fill="#fff"/>
<rect x="697" y="77" width="1" height="17" fill="#000"/>
<rect x="696" y="68" width="3" height="9" fill="#000"/>
<rect x="697" y="69" width="1" height="7" fill="#fff"/>
<rect x="700" y="85" width="1" height="1" fill="#000"/>
<rect x="700" y="90" width="1" height="17" fill="#000"/>
<rect x="699" y="86" width="3" height="4" fill="#000"/>
<rect x="700" y="87" width="1" height="2" fill="#fff"/>
<rect x="704" y="96" width="1" height="10" fill="#000"/>
<rect x="704" y="108" width="1" height="9" fill="#000"/>
<rect x="703" y="106" width="3" height="2" fill="#000"/>
<rect x="708" y="98" width="1" height="2" fill="#000"/>
<rect x="708" y="110" width="1" height="1" fill="#000"/>
<rect x="707" y="100" width="3" height="10" fill="#000"/>
<rect x="711" y="104" width="1" height="2" fill="#000"/>
<rect x="711" y="129" width="1" height="2" fill="#000"/>
<rect x="710" y="106" width="3" height="23" fill="#000"/>
<rect x="73" y="220" width="3" height="6" fill="#ff0000"/>
<rect x="70" y="226" width="9" height="1" fill="#ff0000"/>
<rect x="71" y="227" width="7" height="1" fill="#ff0000"/>
<rect x="71" y="228" width="7" height="1" fill="#ff0000"/>
<rect x="72" y="229" width="5" height="1" fill="#ff0000"/>
<rect x="72" y="230" width="5" height="1" fill="#ff0000"/>
<rect x="73" y="231" width="3" height="1" fill="#ff0000"/>
<rect x="73" y="232" width="3" height="1" fill="#ff0000"/>
<rect x="74" y="233" width="1" height="1" fill="#ff0000"/>
<rect x="74" y="234" width="1" height="1" fill="#ff0000"/>
<rect x="84" y="211" width="3" height="6" fill="#ff0000"/>
<rect x="81" y="217" width="9" height="1" fill="#ff0000"/>
<rect x="82" y="218" width="7" height="1" fill="#ff0000"/>
<rect x="82" y="219" width="7" height="1" fill="#ff0000"/>
<rect x="83" y="220" width="5" height="1" fill="#ff0000"/>
<rect x="83" y="221" width="5" height="1" fill="#ff0000"/>
<rect x="84" y="222" width="3" height="1" fill="#ff0000"/>
<rect x="84" y="223" width="3" height="1" fill="#ff0000"/>
<rect x="85" y="224" width="1" height="1" fill="#ff0000"/>
<rect x="85" y="225" width="1" height="1" fill="#ff0000"/>
<rect x="172" y="205" width="3" height="6" fill="#ff0000"/>
<rect x="169" y="211" width="9" height="1" fill="#ff0000"/>
<rect x="170" y="212" width="7" height="1" fill="#ff0000"/>
<rect x="170" y="213" width="7" height="1" fill="#ff0000"/>
<rect x="171" y="214" width="5" height="1" fill="#ff0000"/>
<rect x="171" y="215" width="5" height="1" fill="#ff0000"/>
<rect x="172" y="216" width="3" height="1" fill="#ff0000"/>
<rect x="172" y="217" width="3" height="1" fill="#ff0000"/>
<rect x="173" y="218" width="1" height="1" fill="#ff0000"/>
<rect x="173" y="219" width="1" height="1" fill="#ff0000"/>
<rect x="187" y="209" width="3" height="6" fill="#ff0000"/>
<rect x="184" y="215" width="9" height="1" fill="#ff0000"/>
<rect x="185" y="216" width="7" height="1" fill="#ff0000"/>
<rect x="185" y="217" width="7" height="1" fill="#ff0000"/>
<rect x="186" y="218" width="5" height="1" fill="#ff0000"/>
<rect x="186" y="219" width="5" height="1" fill="#ff0000"/>
<rect x="187" y="220" width="3" height="1" fill="#ff0000"/>
<rect x="187" y="221" width="3" height="1" fill="#ff0000"/>
<rect x="188" y="222" width="1" height="1" fill="#ff0000"/>
<rect x="188" y="223" width="1" height="1" fill="#ff0000"/>
<rect x="198" y="210" width="3" height="6" fill="#ff0000"/>
<rect x="195" y="216" width="9" height="1" fill="#ff0000"/>
<rect x="196" y="217" width="7" height="1" fill="#ff0000"/>
<rect x="196" y="218" width="7" height="1" fill="#ff0000"/>
<rect x="197" y="219" width="5" height="1" fill="#ff0000"/>
<rect x="197" y="220" width="5" height="1" fill="#ff0000"/>
<rect x="198" y="221" width="3" height="1" fill="#ff0000"/>
<rect x="198" y="222" width="3" height="1" fill="#ff0000"/>
<rect x="199" y="223" width="1" height="1" fill="#ff0000"/>
<rect x="199" y="224" width="1" height="1" fill="#ff0000"/>
<rect x="242" y="188" width="3" height="6" fill="#ff0000"/>
<rect x="239" y="194" width="9" height="1" fill="#ff0000"/>
<rect x="240" y="195" width="7" height="1" fill="#ff0000"/>
<rect x="240" y="196" width="7" height="1" fill="#ff0000"/>
<rect x="241" y="197" width="5" height="1" fill="#ff0000"/>
<rect x="241" y="198" width="5" height="1" fill="#ff0000"/>
<rect x="242" y="199" width="3" height="1" fill="#ff0000"/>
<rect x="242" y="200" width="3" height="1" fill="#ff0000"/>
<rect x="243" y="201" width="1" height="1" fill="#ff0000"/>
<rect x="243" y="202" width="1" height="1" fill="#ff0000"/>
<rect x="263" y="184" width="3" height="6" fill="#ff0000"/>
<rect x="260" y="190" width="9" height="1" fill="#ff0000"/>
<rect x="261" y="191" width="7" height="1" fill="#ff0000"/>
<rect x="261" y="192" width="7" height="1" fill="#ff0000"/>
<rect x="262" y="193" width="5" height="1" fill="#ff0000"/>
<rect x="262" y="194" width="5" height="1" fill="#ff0000"/>
<rect x="263" y="195" width="3" height="1" fill="#ff0000"/>
<rect x="263" y="196" width="3" height="1" fill="#ff0000"/>
<rect x="264" y="197" width="1" height="1" fill="#ff0000"/>
<rect x="264" y="198" width="1" height="1" fill="#ff0000"/>
<rect x="370" y="153" width="3" height="6" fill="#ff0000"/>
<rect x="367" y="159" width="9" height="1" fill="#ff0000"/>
<rect x="368" y="160" width="7" height="1" fill="#ff0000"/>
<rect x="368" y="161" width="7" height="1" fill="#ff0000"/>
<rect x="369" y="162" width="5" height="1" fill="#ff0000"/>
<rect x="369" y="163" width="5" height="1" fill="#ff0000"/>
<rect x="370" y="164" width="3" height="1" fill="#ff0000"/>
<rect x="370" y="165" width="3" height="1" fill="#ff0000"/>
<rect x="371" y="166" width="1" height="1" fill="#ff0000"/>
<rect x="371" y="167" width="1" height="1" fill="#ff0000"/>
<rect x="428" y="133" width="3" height="6" fill="#ff0000"/>
<rect x="425" y="139" width="9" height="1" fill="#ff0000"/>
<rect x="426" y="140" width="7" height="1" fill="#ff0000"/>
<rect x="426" y="141" width="7" height="1" fill="#ff0000"/>
<rect x="427" y="142" width="5" height="1" fill="#ff0000"/>
<rect x="427" y="143" width="5" height="1" fill="#ff0000"/>
<rect x="428" y="144" width="3" height="1" fill="#ff0000"/>
<rect x="428" y="145" width="3" height="1" fill="#ff0000"/>
<rect x="429" y="146" width="1" height="1" fill="#ff0000"/>
<rect x="429" y="147" width="1" height="1" fill="#ff0000"/>
<rect x="531" y="171" width="3" height="6" fill="#ff0000"/>
<rect x="528" y="177" width="9" height="1" fill="#ff0000"/>
<rect x="529" y="178" width="7" height="1" fill="#ff0000"/>
<rect x="529" y="179" width="7" height="1" fill="#ff0000"/>
<rect x="530" y="180" width="5" height="1" fill="#ff0000"/>
<rect x="530" y="181" width="5" height="1" fill="#ff0000"/>
<rect x="531" y="182" width="3" height="1" fill="#ff0000"/>
<rect x="531" y="183" width="3" height="1" fill="#ff0000"/>
<rect x="532" y="184" width="1" height="1" fill="#ff0000"/>
<rect x="532" y="185" width="1" height="1" fill="#ff0000"/>
<rect x="538" y="177" width="3" height="6" fill="#ff0000"/>
<rect x="535" y="183" width="9" height="1" fill="#ff0000"/>
<rect x="536" y="184" width="7" height="1" fill="#ff0000"/>
<rect x="536" y="185" width="7" height="1" fill="#ff0000"/>
<rect x="537" y="186" width="5" height="1" fill="#ff0000"/>
<rect x="537" y="187" width="5" height="1" fill="#ff0000"/>
<rect x="538" y="188" width="3" height="1" fill="#ff0000"/>
<rect x="538" y="189" width="3" height="1" fill="#ff0000"/>
<rect x="539" y="190" width="1" height="1" fill="#ff0000"/>
<rect x="539" y="191" width="1" height="1" fill="#ff0000"/>
<rect x="600" y="172" width="3" height="6" fill="#ff0000"/>
<rect x="597" y="178" width="9" height="1" fill="#ff0000"/>
<rect x="598" y="179" width="7" height="1" fill="#ff0000"/>
<rect x="598" y="180" width="7" height="1" fill="#ff0000"/>
<rect x="599" y="181" width="5" height="1" fill="#ff0000"/>
<rect x="599" y="182" width="5" height="1" fill="#ff0000"/>
<rect x="600" y="183" width="3" height="1" fill="#ff0000"/>
<rect x="600" y="184" width="3" height="1" fill="#ff0000"/>
<rect x="601" y="185" width="1" height="1" fill="#ff0000"/>
<rect x="601" y="186" width="1" height="1" fill="#ff0000"/>
<rect x="688" y="20" width="3" height="6" fill="#ff0000"/>
<rect x="685" y="26" width="9" height="1" fill="#ff0000"/>
<rect x="686" y="27" width="7" height="1" fill="#ff0000"/>
<rect x="686" y="28" width="7" height="1" fill="#ff0000"/>
<rect x="687" y="29" width="5" height="1" fill="#ff0000"/>
<rect x="687" y="30" width="5" height="1" fill="#ff0000"/>
<rect x="688" y="31" width="3" height="1" fill="#ff0000"/>
<rect x="688" y="32" width="3" height="1" fill="#ff0000"/>
<rect x="689" y="33" width="1" height="1" fill="#ff0000"/>
<rect x="689" y="34" width="1" height="1" fill="#ff0000"/>
<rect x="699" y="62" width="3" height="6" fill="#ff0000"/>
<rect x="696" y="68" width="9" height="1" fill="#ff0000"/>
<rect x="697" y="69" width="7" height="1" fill="#ff0000"/>
<rect x="697" y="70" width="7" height="1" fill="#ff0000"/>
<rect x="698" y="71" width="5" height="1" fill="#ff0000"/>
<rect x="698" y="72" width="5" height="1" fill="#ff0000"/>
<rect x="699" y="73" width="3" height="1" fill="#ff0000"/>
<rect x="699" y="74" width="3" height="1" fill="#ff0000"/>
<rect x="700" y="75" width="1" height="1" fill="#ff0000"/>
<rect x="700" y="76" width="1" height="1" fill="#ff0000"/>
<rect x="122" y="252" width="1" height="1" fill="#009900"/>
<rect x="122" y="253" width="1" height="1" fill="#009900"/>
<rect x="121" y="254" width="3" height="1" fill="#009900"/>
<rect x="121" y="255" width="3" height="1" fill="#009900"/>
<rect x="120" y="256" width="5" height="1" fill="#009900"/>
<rect x="120" y="257" width="5" height="1" fill="#009900"/>
<rect x="119" y="258" width="7" height="1" fill="#009900"/>
<rect x="119" y="259" width="7" height="1" fill="#009900"/>
<rect x="118" y="260" width="9" height="1" fill="#009900"/>
<rect x="121" y="261" width="3" height="6" fill="#009900"/>
<rect x="147" y="268" width="1" height="1" fill="#009900"/>
<rect x="147" y="269" width="1" height="1" fill="#009900"/>
<rect x="146" y="270" width="3" height="1" fill="#009900"/>
<rect x="146" y="271" width="3" height="1" fill="#009900"/>
<rect x="145" y="272" width="5" height="1" fill="#009900"/>
<rect x="145" y="273" width="5" height="1" fill="#009900"/>
<rect x="144" y="274" width="7" height="1" fill="#009900"/>
<rect x="144" y="275" width="7" height="1" fill="#009900"/>
<rect x="143" y="276" width="9" height="1" fill="#009900"/>
<rect x="146" y="277" width="3" height="6" fill="#009900"/>
<rect x="283" y="227" width="1" height="1" fill="#009900"/>
<rect x="283" y="228" width="1" height="1" fill="#009900"/>
<rect x="282" y="229" width="3" height="1" fill="#009900"/>
<rect x="282" y="230" width="3" height="1" fill="#009900"/>
<rect x="281" y="231" width="5" height="1" fill="#009900"/>
<rect x="281" y="232" width="5" height="1" fill="#009900"/>
<rect x="280" y="233" width="7" height="1" fill="#009900"/>
<rect x="280" y="234" width="7" height="1" fill="#009900"/>
<rect x="279" y="235" width="9" height="1" fill="#009900"/>
<rect x="282" y="236" width="3" height="6" fill="#009900"/>
<rect x="294" y="229" width="1" height="1" fill="#009900"/>
<rect x="294" y="230" width="1" height="1" fill="#009900"/>
<rect x="293" y="231" width="3" height="1" fill="#009900"/>
<rect x="293" y="232" width="3" height="1" fill="#009900"/>
<rect x="292" y="233" width="5" height="1" fill="#009900"/>
<rect x="292" y="234" width="5" height="1" fill="#009900"/>
<rect x="291" y="235" width="7" height="1" fill="#009900"/>
<rect x="291" y="236" width="7" height="1" fill="#009900"/>
<rect x="290" y="237" width="9" height="1" fill="#009900"/>
<rect x="293" y="238" width="3" height="6" fill="#009900"/>
<rect x="301" y="225" width="1" height="1" fill="#009900"/>
<rect x="301" y="226" width="1" height="1" fill="#009900"/>
<rect x="300" y="227" width="3" height="1" fill="#009900"/>
<rect x="300" y="228" width="3" height="1" fill="#009900"/>
<rect x="299" y="229" width="5" height="1" fill="#009900"/>
<rect x="299" y="230" width="5" height="1" fill="#009900"/>
<rect x="298" y="231" width="7" height="1" fill="#009900"/>
<rect x="298" y="232" width="7" height="1" fill="#009900"/>
<rect x="297" y="233" width="9" height="1" fill="#009900"/>
<rect x="300" y="234" width="3" height="6" fill="#009900"/>
<rect x="308" y="239" width="1" height="1" fill="#009900"/>
<rect x="308" y="240" width="1" height="1" fill="#009900"/>
<rect x="307" y="241" width="3" height="1" fill="#009900"/>
<rect x="307" y="242" width="3" height="1" fill="#009900"/>
<rect x="306" y="243" width="5" height="1" fill="#009900"/>
<rect x="306" y="244" width="5" height="1" fill="#009900"/>
<rect x="305" y="245" width="7" height="1" fill="#009900"/>
<rect x="305" y="246" width="7" height="1" fill="#009900"/>
<rect x="304" y="247" width="9" height="1" fill="#009900"/>
<rect x="307" y="248" width="3" height="6" fill="#009900"/>
<rect x="495" y="231" width="1" height="1" fill="#009900"/>
<rect x="495" y="232" width="1" height="1" fill="#009900"/>
<rect x="494" y="233" width="3" height="1" fill="#009900"/>
<rect x="494" y="234" width="3" height="1" fill="#009900"/>
<rect x="493" y="235" width="5" height="1" fill="#009900"/>
<rect x="493" y="236" width="5" height="1" fill="#009900"/>
<rect x="492" y="237" width="7" height="1" fill="#009900"/>
<rect x="492" y="238" width="7" height="1" fill="#009900"/>
<rect x="491" y="239" width="9" height="1" fill="#009900"/>
<rect x="494" y="240" width="3" height="6" fill="#009900"/>
<rect x="587" y="217" width="1" height="1" fill="#009900"/>
<rect x="587" y="218" width="1" height="1" fill="#009900"/>
<rect x="586" y="219" width="3" height="1" fill="#009900"/>
<rect x="586" y="220" width="3" height="1" fill="#009900"/>
<rect x="585" y="221" width="5" height="1" fill="#009900"/>
<rect x="585" y="222" width="5" height="1" fill="#009900"/>
<rect x="584" y="223" width="7" height="1" fill="#009900"/>
<rect x="584" y="224" width="7" height="1" fill="#009900"/>
<rect x="583" y="225" width="9" height="1" fill="#009900"/>
<rect x="586" y="226" width="3" height="6" fill="#009900"/>
<rect x="3" y="5" width="1" height="294" fill="#000"/>
<rect x="719" y="5" width="1" height="294" fill="#000"/>
<rect x="3" y="298" width="717" height="1" fill="#000"/>
<rect x="3" y="5" width="7" height="1" fill="#000"/>
<rect x="426" y="5" width="294" height="1" fill="#000"/>
<line x1="4" y1="329.5" x2="719" y2="329.5" stroke="#000" stroke-width="1" stroke-dasharray="1 7"/>
<rect x="720" y="329" width="4" height="1" fill="#000"/>
<line x1="4" y1="346.5" x2="719" y2="346.5" stroke="#000" stroke-width="1" stroke-dasharray="1 7"/>
<rect x="720" y="346" width="4" height="1" fill="#000"/>
<line x1="4" y1="364.5" x2="719" y2="364.5" stroke="#000" stroke-width="1" stroke-dasharray="1 7"/>
<rect x="720" y="364" width="4" height="1" fill="#000"/>
<line x1="4" y1="381.5" x2="719" y2="381.5" stroke="#000" stroke-width="1" stroke-dasharray="1 7"/>
<rect x="720" y="381" width="4" height="1" fill="#000"/>
<line x1="4" y1="398.5" x2="719" y2="398.5" stroke="#000" stroke-width="1" stroke-dasharray="1 7"/>
<rect x="720" y="398" width="4" height="1" fill="#000"/>
<path fill="#000" d="M5 336h269v1h-269zM274 337h1v1h-1zM275 338h3v1h-3zM278 339h64v1h-64zM342 338h2v1h-2zM344 337h1v1h-1zM345 336h2v1h-2zM347 335h11v1h-11zM358 334h46v1h-46zM404 333h1v1h-1zM405 331h1v2h-1zM406 329h1v2h-1zM407 328h1v1h-1zM407 327h18v1h-18zM424 326h19v1h-19zM443 327h185v1h-185zM628 328h1v1h-1zM629 329h1v2h-1zM630 331h1v1h-1zM631 332h1v2h-1zM632 334h1v2h-1zM633 336h1v2h-1zM634 338h1v2h-1zM635 340h2v1h-2zM637 341h1v1h-1zM638 342h30v1h-30zM668 341h1v1h-1zM669 340h43v1h-43z"/>
<path fill="#000" d="M5 396h128v1h-128zM133 397h1v1h-1zM134 398h1v1h-1zM135 399h1v1h-1zM136 400h2v1h-2zM138 401h219v1h-219zM357 400h3v1h-3zM360 399h1v1h-1zM361 397h1v2h-1zM362 395h1v2h-1zM363 394h44v1h-44zM407 393h15v1h-15zM422 391h1v2h-1zM423 389h1v2h-1zM424 387h1v2h-1zM425 386h1v1h-1zM426 385h1v1h-1zM427 384h1v1h-1zM428 383h1v1h-1zM429 382h10v1h-10zM439 383h2v1h-2zM441 384h1v1h-1zM442 385h1v1h-1zM443 386h1v1h-1zM444 387h1v1h-1zM445 388h1v1h-1zM446 389h1v1h-1zM447 390h2v1h-2zM449 391h1v1h-1zM450 392h92v1h-92zM542 393h91v1h-91zM633 394h72v1h-72zM705 393h1v1h-1zM706 392h2v1h-2zM708 391h1v1h-1zM709 390h1v1h-1zM710 388h1v2h-1zM711 387h1v1h-1z"/>
<path fill="#0000ff" d="M5 372h10v1h-10zM15 371h3v1h-3zM18 370h2v1h-2zM20 368h1v2h-1zM21 367h1v1h-1zM22 365h1v2h-1zM23 363h1v2h-1zM24 361h1v2h-1zM25 358h1v3h-1zM26 356h1v2h-1zM27 354h1v2h-1zM28 352h1v2h-1zM29 351h1v1h-1zM30 349h1v2h-1zM31 348h2v1h-2zM33 347h1v1h-1zM34 346h3v1h-3zM37 345h2v1h-2zM39 346h4v1h-4zM43 345h1v1h-1zM44 344h2v1h-2zM46 343h1v1h-1zM47 342h2v1h-2zM49 341h1v1h-1zM50 340h2v1h-2zM52 339h2v1h-2zM54 338h4v1h-4zM58 337h3v1h-3zM61 338h3v1h-3zM64 339h1v1h-1zM65 340h1v1h-1zM66 341h1v1h-1zM67 342h2v1h-2zM69 343h1v1h-1zM70 344h1v1h-1zM71 345h1v1h-1zM72 346h1v2h-1zM73 348h1v1h-1zM74 349h1v1h-1zM75 350h1v1h-1zM76 351h1v1h-1zM77 352h2v1h-2zM79 353h1v1h-1zM80 354h1v1h-1zM81 355h2v1h-2zM83 356h2v1h-2zM85 357h1v1h-1zM86 358h1v1h-1zM87 359h1v1h-1zM88 360h1v2h-1zM89 362h1v1h-1zM90 363h1v1h-1zM91 364h1v1h-1zM92 365h2v1h-2zM94 366h1v1h-1zM95 367h1v1h-1zM96 368h2v1h-2zM98 369h1v1h-1zM99 370h1v1h-1zM100 371h1v1h-1zM101 372h1v2h-1zM102 374h1v1h-1zM103 375h2v1h-2zM105 376h2v1h-2zM107 377h2v1h-2zM109 378h2v1h-2zM111 379h2v1h-2zM113 380h2v1h-2zM115 381h1v1h-1zM116 382h2v1h-2zM118 383h1v1h-1zM119 382h1v1h-1zM120 381h2v1h-2zM122 380h2v1h-2zM124 379h2v1h-2zM126 380h1v2h-1zM127 382h1v2h-1zM128 384h1v2h-1zM129 386h1v1h-1zM130 387h1v1h-1zM131 388h1v1h-1zM132 389h1v1h-1zM133 390h1v1h-1zM134 391h1v1h-1zM135 392h1v1h-1zM136 393h1v1h-1zM137 394h2v1h-2zM139 395h1v1h-1zM140 396h3v1h-3zM143 397h2v1h-2zM145 396h1v1h-1zM146 395h1v1h-1zM147 393h1v2h-1zM148 389h1v4h-1zM149 385h1v4h-1zM150 382h1v3h-1zM151 380h1v2h-1zM152 377h1v3h-1zM153 375h1v2h-1zM154 373h1v2h-1zM155 371h1v2h-1zM156 369h1v2h-1zM157 367h1v2h-1zM158 365h1v2h-1zM159 363h1v2h-1zM160 362h1v1h-1zM161 361h1v1h-1zM162 360h2v1h-2zM164 359h1v1h-1zM165 358h2v1h-2zM167 357h1v1h-1zM168 356h4v1h-4zM172 357h3v1h-3zM175 358h1v1h-1zM176 359h2v1h-2zM178 360h1v1h-1zM179 361h2v1h-2zM181 362h3v1h-3zM184 363h2v1h-2zM186 364h2v1h-2zM188 365h2v1h-2zM190 366h1v1h-1zM191 367h2v1h-2zM193 368h2v1h-2zM195 369h1v1h-1zM196 370h1v1h-1zM197 371h1v1h-1zM198 372h1v1h-1zM199 373h1v1h-1zM200 374h1v2h-1zM201 376h1v2h-1zM202 378h1v2h-1zM203 380h1v1h-1zM204 381h1v2h-1zM205 383h1v1h-1zM206 384h3v1h-3zM209 383h2v1h-2zM211 382h2v1h-2zM213 381h1v1h-1zM214 380h2v1h-2zM216 379h1v1h-1zM217 378h1v1h-1zM218 376h1v2h-1zM219 375h1v1h-1zM220 373h1v2h-1zM221 371h1v2h-1zM222 368h1v3h-1zM223 366h1v2h-1zM224 363h1v3h-1zM225 362h1v1h-1zM226 359h1v3h-1zM227 358h1v1h-1zM228 356h1v2h-1zM229 355h1v1h-1zM230 354h1v1h-1zM231 353h1v1h-1zM232 352h1v1h-1zM233 351h1v1h-1zM234 350h2v1h-2zM236 349h2v1h-2zM238 350h3v1h-3zM241 351h1v1h-1zM242 352h1v1h-1zM243 353h1v1h-1zM244 354h1v1h-1zM245 355h1v1h-1zM246 356h1v1h-1zM247 357h1v1h-1zM248 358h1v1h-1zM249 359h1v1h-1zM250 360h1v1h-1zM251 361h1v1h-1zM252 362h2v1h-2zM254 363h1v1h-1zM255 364h3v1h-3zM258 365h1v1h-1zM259 366h2v1h-2zM261 367h1v1h-1zM262 368h1v1h-1zM263 369h1v1h-1zM264 370h4v1h-4zM268 371h3v1h-3zM271 372h1v1h-1zM272 373h2v1h-2zM274 374h1v1h-1zM275 375h1v1h-1zM276 376h1v1h-1zM277 377h1v1h-1zM278 378h1v1h-1zM279 379h1v1h-1zM280 378h2v1h-2zM282 377h1v1h-1zM283 376h1v1h-1zM284 375h2v1h-2zM286 374h1v1h-1zM287 375h2v1h-2zM289 376h2v1h-2zM291 377h7v1h-7zM298 376h2v1h-2zM300 375h4v1h-4zM304 374h4v1h-4zM308 373h1v1h-1zM309 372h2v1h-2zM311 371h2v1h-2zM313 370h3v1h-3zM316 369h5v1h-5zM321 368h4v1h-4zM325 366h1v2h-1zM326 364h1v2h-1zM327 362h1v2h-1zM328 360h1v2h-1zM329 359h1v1h-1zM330 357h1v2h-1zM331 356h1v1h-1zM332 355h1v1h-1zM333 353h1v2h-1zM334 352h1v1h-1zM335 351h1v1h-1zM336 350h2v1h-2zM338 349h1v1h-1zM339 348h1v1h-1zM340 347h1v1h-1zM341 346h1v1h-1zM342 345h1v1h-1zM343 344h1v1h-1zM344 343h1v1h-1zM345 342h1v1h-1zM346 341h1v1h-1zM347 340h2v1h-2zM349 339h2v1h-2zM351 338h5v1h-5zM356 339h1v1h-1zM357 340h1v1h-1zM358 341h3v1h-3zM361 342h1v1h-1zM362 343h2v1h-2zM364 344h1v1h-1zM365 345h1v1h-1zM366 346h1v1h-1zM367 347h1v1h-1zM368 348h1v1h-1zM369 349h1v1h-1zM370 350h1v1h-1zM371 351h1v1h-1zM372 352h1v1h-1zM373 353h1v1h-1zM374 354h2v1h-2zM376 355h1v1h-1zM377 356h1v1h-1zM378 357h1v1h-1zM379 358h2v1h-2zM381 359h1v1h-1zM382 360h2v1h-2zM384 361h1v1h-1zM385 362h1v1h-1zM386 363h1v1h-1zM387 364h1v1h-1zM388 365h1v1h-1zM389 366h7v1h-7zM396 363h1v3h-1zM397 362h1v1h-1zM398 360h1v2h-1zM399 358h1v2h-1zM400 356h1v2h-1zM401 353h1v3h-1zM402 351h1v2h-1zM403 348h1v3h-1zM404 346h1v2h-1zM405 344h1v2h-1zM406 343h1v1h-1zM407 341h1v2h-1zM408 340h1v1h-1zM409 339h1v1h-1zM410 338h1v1h-1zM411 337h2v1h-2zM413 336h3v1h-3zM416 337h2v1h-2zM418 338h1v1h-1zM419 339h2v1h-2zM421 340h1v1h-1zM422 341h4v1h-4zM426 342h1v1h-1zM427 343h1v2h-1zM428 345h1v3h-1zM429 348h1v3h-1zM430 351h1v2h-1zM431 353h1v2h-1zM432 355h1v2h-1zM433 357h1v2h-1zM434 359h1v2h-1zM435 361h1v2h-1zM436 363h1v2h-1zM437 365h1v1h-1zM438 366h1v2h-1zM439 368h1v2h-1zM440 370h1v1h-1zM441 371h1v2h-1zM442 373h1v2h-1zM443 375h1v1h-1zM444 376h1v2h-1zM445 378h1v1h-1zM446 379h1v1h-1zM447 380h1v1h-1zM448 381h1v2h-1zM449 383h1v1h-1zM450 384h2v1h-2zM452 385h2v1h-2zM454 386h2v1h-2zM456 387h3v1h-3zM459 388h5v1h-5zM464 387h4v1h-4zM468 386h4v1h-4zM472 385h4v1h-4zM476 386h4v1h-4zM480 387h1v1h-1zM481 388h1v1h-1zM482 389h1v1h-1zM483 390h1v1h-1zM484 391h3v1h-3zM487 392h5v1h-5zM492 391h2v1h-2zM494 390h2v1h-2zM496 388h1v2h-1zM497 387h1v1h-1zM498 385h1v2h-1zM499 383h1v2h-1zM500 382h1v1h-1zM501 381h1v1h-1zM502 380h1v1h-1zM503 379h1v1h-1zM504 378h1v1h-1zM505 377h1v1h-1zM506 376h2v1h-2zM508 375h1v1h-1zM509 374h2v1h-2zM511 373h1v1h-1zM512 372h1v1h-1zM513 371h1v1h-1zM514 370h1v1h-1zM515 369h1v1h-1zM516 368h1v1h-1zM517 367h1v1h-1zM518 366h1v1h-1zM519 365h1v1h-1zM520 364h1v1h-1zM521 363h1v1h-1zM522 361h1v2h-1zM523 360h1v1h-1zM524 358h1v2h-1zM525 357h3v1h-3zM528 356h8v1h-8zM536 357h1v1h-1zM537 358h1v2h-1zM538 360h1v1h-1zM539 361h1v1h-1zM540 362h1v1h-1zM541 363h1v1h-1zM542 364h1v2h-1zM543 366h1v1h-1zM544 367h1v1h-1zM545 368h1v1h-1zM546 369h1v1h-1zM547 370h2v1h-2zM549 371h1v1h-1zM550 372h2v1h-2zM552 373h2v1h-2zM554 374h2v1h-2zM556 375h2v1h-2zM558 376h2v1h-2zM560 377h2v1h-2zM562 376h2v1h-2zM564 375h2v1h-2zM566 374h1v1h-1zM567 373h1v1h-1zM568 372h2v1h-2zM570 371h5v1h-5zM575 372h2v1h-2zM577 373h1v1h-1zM578 374h1v1h-1zM579 375h2v1h-2zM581 376h1v1h-1zM582 377h2v1h-2zM584 378h1v1h-1zM585 376h1v2h-1zM586 374h1v2h-1zM587 372h1v2h-1zM588 371h1v1h-1zM589 370h1v1h-1zM590 369h1v1h-1zM591 368h2v1h-2zM593 367h1v1h-1zM594 366h1v1h-1zM595 365h1v1h-1zM596 364h2v1h-2zM598 363h1v1h-1zM599 362h1v1h-1zM600 361h1v1h-1zM601 360h2v1h-2zM603 359h1v1h-1zM604 358h1v1h-1zM605 357h1v1h-1zM606 356h1v1h-1zM607 355h1v1h-1zM608 354h1v1h-1zM609 353h1v1h-1zM610 352h2v1h-2zM612 351h1v1h-1zM613 350h1v1h-1zM614 349h2v1h-2zM616 348h4v1h-4zM620 347h2v1h-2zM622 346h2v1h-2zM624 345h1v1h-1zM625 344h2v1h-2zM627 343h6v1h-6zM633 344h3v1h-3zM636 345h1v1h-1zM637 346h5v1h-5zM642 347h4v1h-4zM646 348h3v1h-3zM649 349h3v1h-3zM652 350h2v1h-2zM654 351h7v1h-7zM661 350h1v1h-1zM662 349h2v1h-2zM664 348h1v1h-1zM665 347h1v1h-1zM666 346h2v1h-2zM668 345h2v1h-2zM670 344h3v1h-3zM673 343h4v1h-4zM677 342h3v1h-3zM680 341h4v1h-4zM684 340h3v1h-3zM687 341h1v2h-1zM688 343h1v1h-1zM689 344h1v2h-1zM690 346h1v1h-1zM691 347h1v1h-1zM692 348h2v1h-2zM694 349h1v1h-1zM695 350h1v1h-1zM696 351h1v1h-1zM697 352h1v1h-1zM698 353h1v1h-1zM699 354h1v1h-1zM700 355h1v1h-1zM701 356h1v1h-1zM702 357h1v1h-1zM703 358h1v2h-1zM704 360h1v2h-1zM705 362h1v1h-1zM706 363h1v2h-1zM707 365h1v1h-1zM708 366h1v3h-1zM709 369h1v1h-1zM710 370h1v3h-1zM711 373h1v1h-1z"/>
<path fill="#ff0000" d="M5 381h1v1h-1zM6 380h1v1h-1zM7 379h1v1h-1zM8 378h1v1h-1zM9 376h1v2h-1zM10 375h1v1h-1zM11 374h1v1h-1zM12 373h1v1h-1zM13 372h1v1h-1zM14 371h1v1h-1zM15 370h2v1h-2zM17 369h1v1h-1zM18 368h1v1h-1zM19 366h1v2h-1zM20 363h1v3h-1zM21 360h1v3h-1zM22 357h1v3h-1zM23 353h1v4h-1zM24 349h1v4h-1zM25 345h1v4h-1zM26 342h1v3h-1zM27 339h1v3h-1zM28 337h1v2h-1zM29 334h1v3h-1zM30 333h1v1h-1zM30 332h5v1h-5zM34 333h1v1h-1zM35 334h1v2h-1zM36 336h1v2h-1zM37 338h1v2h-1zM38 340h1v2h-1zM39 342h1v2h-1zM40 344h1v2h-1zM41 346h1v1h-1zM42 345h2v1h-2zM44 344h1v1h-1zM45 342h1v2h-1zM46 340h1v2h-1zM47 338h1v2h-1zM48 337h1v1h-1zM49 336h1v1h-1zM50 335h1v1h-1zM51 334h1v1h-1zM52 333h5v1h-5zM57 334h3v1h-3zM60 335h1v1h-1zM61 336h1v1h-1zM62 337h1v1h-1zM63 338h1v1h-1zM64 339h1v1h-1zM65 340h1v2h-1zM66 342h1v2h-1zM67 344h1v1h-1zM68 345h1v3h-1zM69 348h1v1h-1zM70 349h1v3h-1zM71 352h1v1h-1zM72 353h1v2h-1zM73 355h1v1h-1zM74 356h1v2h-1zM75 358h1v1h-1zM76 359h1v2h-1zM77 361h1v1h-1zM78 362h3v1h-3zM81 363h1v1h-1zM82 364h2v1h-2zM84 365h1v1h-1zM85 366h2v1h-2zM87 367h1v1h-1zM88 368h1v1h-1zM89 369h1v1h-1zM90 370h1v1h-1zM91 371h1v1h-1zM92 372h1v1h-1zM93 373h1v1h-1zM94 374h1v1h-1zM95 375h2v1h-2zM97 376h2v1h-2zM99 377h2v1h-2zM100 378h1v1h-1zM101 379h1v2h-1zM102 381h1v2h-1zM103 383h1v1h-1zM103 384h2v1h-2zM105 383h6v1h-6zM111 384h2v1h-2zM113 385h2v1h-2zM115 386h2v1h-2zM117 387h2v1h-2zM118 386h1v1h-1zM119 385h1v1h-1zM120 382h1v3h-1zM121 381h1v1h-1zM122 380h1v1h-1zM123 379h1v1h-1zM124 378h2v1h-2zM125 377h1v1h-1zM126 379h1v4h-1zM127 383h1v3h-1zM128 386h1v3h-1zM129 389h1v2h-1zM130 391h1v3h-1zM131 394h1v2h-1zM132 396h1v2h-1zM133 398h1v2h-1zM134 400h1v1h-1zM135 401h1v2h-1zM136 403h2v1h-2zM138 404h3v1h-3zM141 403h1v1h-1zM142 402h2v1h-2zM144 400h1v2h-1zM145 399h1v1h-1zM146 396h1v3h-1zM147 393h1v3h-1zM148 388h1v5h-1zM149 384h1v4h-1zM150 378h1v6h-1zM151 372h1v6h-1zM152 365h1v7h-1zM153 359h1v6h-1zM154 355h1v4h-1zM155 351h1v4h-1zM156 348h1v3h-1zM157 347h1v1h-1zM158 346h1v1h-1zM159 345h1v1h-1zM160 344h4v1h-4zM164 345h2v1h-2zM166 346h1v1h-1zM167 347h2v1h-2zM169 348h1v1h-1zM170 349h1v2h-1zM171 351h1v1h-1zM172 352h1v1h-1zM173 353h1v1h-1zM174 354h1v2h-1zM175 356h1v1h-1zM176 357h1v2h-1zM177 359h1v1h-1zM178 360h1v2h-1zM179 362h1v2h-1zM180 364h1v1h-1zM181 365h1v1h-1zM182 366h2v1h-2zM184 367h1v1h-1zM185 368h1v1h-1zM186 369h2v1h-2zM188 370h1v1h-1zM189 371h2v1h-2zM191 372h3v1h-3zM194 371h2v1h-2zM195 372h1v1h-1zM196 373h1v2h-1zM197 375h1v3h-1zM198 378h1v2h-1zM199 380h1v3h-1zM200 383h1v3h-1zM201 386h1v2h-1zM202 388h1v3h-1zM203 391h1v2h-1zM204 393h1v2h-1zM205 395h1v2h-1zM206 397h1v1h-1zM207 395h1v2h-1zM208 393h1v2h-1zM209 391h1v2h-1zM210 389h1v2h-1zM211 387h1v2h-1zM212 384h1v3h-1zM213 382h1v2h-1zM214 380h1v2h-1zM215 379h1v1h-1zM216 377h1v2h-1zM217 374h1v3h-1zM218 369h1v5h-1zM219 364h1v5h-1zM220 359h1v5h-1zM221 356h1v3h-1zM222 351h1v5h-1zM223 348h1v3h-1zM224 344h1v4h-1zM225 343h1v1h-1zM226 340h1v3h-1zM227 339h1v1h-1zM228 338h1v1h-1zM228 337h2v1h-2zM230 336h3v1h-3zM233 337h1v1h-1zM234 338h1v2h-1zM235 340h1v1h-1zM236 341h1v1h-1zM237 342h1v2h-1zM238 344h1v2h-1zM239 346h1v2h-1zM240 348h1v2h-1zM241 350h1v2h-1zM242 352h1v2h-1zM243 354h1v2h-1zM244 356h1v3h-1zM245 359h1v1h-1zM246 360h1v3h-1zM247 363h1v1h-1zM248 364h1v2h-1zM249 366h1v1h-1zM250 367h1v2h-1zM251 369h1v1h-1zM252 370h2v1h-2zM254 371h1v1h-1zM255 372h3v1h-3zM258 371h1v1h-1zM259 370h2v1h-2zM261 371h1v1h-1zM262 372h1v2h-1zM263 374h1v1h-1zM264 375h5v1h-5zM269 376h1v1h-1zM270 377h2v1h-2zM272 378h1v1h-1zM273 379h1v1h-1zM274 380h1v1h-1zM275 381h1v1h-1zM276 382h1v1h-1zM277 383h1v1h-1zM278 384h1v1h-1zM279 385h1v1h-1zM280 382h1v3h-1zM281 381h1v1h-1zM282 378h1v3h-1zM283 377h1v1h-1zM284 375h1v2h-1zM285 374h1v1h-1zM286 373h1v1h-1zM287 374h1v1h-1zM288 375h1v2h-1zM289 377h1v1h-1zM290 378h6v1h-6zM296 379h2v1h-2zM297 378h1v1h-1zM298 376h1v2h-1zM299 374h1v2h-1zM300 373h1v1h-1zM300 372h3v1h-3zM303 371h6v1h-6zM309 370h2v1h-2zM311 369h1v1h-1zM312 368h2v1h-2zM314 367h1v1h-1zM315 366h10v1h-10zM324 364h1v2h-1zM325 360h1v4h-1zM326 356h1v4h-1zM327 353h1v3h-1zM328 351h1v2h-1zM329 348h1v3h-1zM330 346h1v2h-1zM331 344h1v2h-1zM332 342h1v2h-1zM333 340h1v2h-1zM334 339h7v1h-7zM341 338h1v1h-1zM342 336h1v2h-1zM343 335h1v1h-1zM344 334h1v1h-1zM345 333h1v1h-1zM346 332h2v1h-2zM348 331h2v1h-2zM350 332h2v1h-2zM352 333h1v1h-1zM353 334h1v1h-1zM354 335h1v1h-1zM355 336h1v1h-1zM356 337h1v2h-1zM357 339h1v2h-1zM358 341h1v1h-1zM359 342h2v1h-2zM361 343h1v2h-1zM362 345h1v2h-1zM363 347h1v2h-1zM364 349h1v2h-1zM365 351h1v1h-1zM366 352h1v1h-1zM367 353h1v2h-1zM368 355h1v1h-1zM369 356h1v1h-1zM370 357h1v2h-1zM371 359h1v1h-1zM372 360h1v1h-1zM373 361h1v1h-1zM374 362h2v1h-2zM376 363h1v1h-1zM377 364h2v1h-2zM379 365h1v1h-1zM380 366h1v1h-1zM381 367h1v1h-1zM382 368h2v1h-2zM384 369h1v1h-1zM385 370h1v1h-1zM386 371h2v1h-2zM388 372h1v1h-1zM389 373h1v1h-1zM390 372h2v1h-2zM392 371h2v1h-2zM394 368h1v3h-1zM395 365h1v3h-1zM396 360h1v5h-1zM397 357h1v3h-1zM398 353h1v4h-1zM399 349h1v4h-1zM400 346h1v3h-1zM401 342h1v4h-1zM402 339h1v3h-1zM403 335h1v4h-1zM404 331h1v4h-1zM405 328h1v3h-1zM406 325h1v3h-1zM407 324h1v1h-1zM407 323h5v1h-5zM412 324h1v3h-1zM413 327h1v2h-1zM414 329h1v3h-1zM415 332h1v2h-1zM416 334h1v2h-1zM417 336h1v2h-1zM418 338h1v2h-1zM419 340h1v2h-1zM420 342h1v2h-1zM421 344h2v1h-2zM423 345h1v1h-1zM424 346h2v1h-2zM426 347h1v4h-1zM427 351h1v5h-1zM428 356h1v5h-1zM429 361h1v3h-1zM430 364h1v3h-1zM431 367h1v2h-1zM432 369h1v2h-1zM433 371h1v2h-1zM434 373h1v2h-1zM435 375h1v3h-1zM436 378h1v2h-1zM437 380h1v2h-1zM438 382h1v3h-1zM439 385h1v1h-1zM440 386h1v3h-1zM441 389h1v1h-1zM442 390h1v1h-1zM443 391h1v1h-1zM444 392h1v1h-1zM445 393h2v1h-2zM447 394h2v1h-2zM449 395h3v1h-3zM452 394h3v1h-3zM455 393h2v1h-2zM457 392h2v1h-2zM459 391h2v1h-2zM461 390h1v1h-1zM462 389h1v1h-1zM463 388h2v1h-2zM465 387h1v1h-1zM466 386h1v1h-1zM467 385h2v1h-2zM469 384h2v1h-2zM471 383h2v1h-2zM473 382h1v1h-1zM474 383h2v1h-2zM476 384h1v1h-1zM477 385h1v1h-1zM478 386h1v2h-1zM479 388h1v1h-1zM480 389h1v2h-1zM481 391h1v1h-1zM482 392h1v3h-1zM483 395h1v1h-1zM484 396h3v1h-3zM487 397h1v1h-1zM488 396h2v1h-2zM490 395h1v1h-1zM491 394h1v1h-1zM492 392h1v2h-1zM493 390h1v2h-1zM494 388h1v2h-1zM495 387h1v1h-1zM496 385h1v2h-1zM497 383h1v2h-1zM498 381h1v2h-1zM499 379h1v2h-1zM500 376h1v3h-1zM501 374h1v2h-1zM502 372h1v2h-1zM503 371h1v1h-1zM504 369h1v2h-1zM505 368h1v1h-1zM506 367h6v1h-6zM512 366h2v1h-2zM514 365h1v1h-1zM515 364h1v1h-1zM516 363h1v1h-1zM517 361h1v2h-1zM518 360h1v1h-1zM519 359h1v1h-1zM520 357h1v2h-1zM521 355h1v2h-1zM522 353h1v2h-1zM523 351h1v2h-1zM524 350h1v1h-1zM525 349h1v1h-1zM526 348h2v1h-2zM528 347h1v1h-1zM529 348h1v1h-1zM530 349h1v1h-1zM531 350h1v1h-1zM532 351h1v1h-1zM533 352h1v1h-1zM534 353h1v1h-1zM535 354h1v2h-1zM536 356h1v3h-1zM537 359h1v2h-1zM538 361h1v3h-1zM539 364h1v2h-1zM540 366h1v3h-1zM541 369h1v2h-1zM542 371h1v2h-1zM543 373h1v2h-1zM544 375h1v2h-1zM545 377h1v2h-1zM546 379h3v1h-3zM549 380h6v1h-6zM555 379h3v1h-3zM558 380h3v1h-3zM561 381h1v1h-1zM562 379h1v2h-1zM563 377h1v2h-1zM564 375h1v2h-1zM565 374h1v1h-1zM566 372h1v2h-1zM567 370h1v2h-1zM568 369h1v1h-1zM569 368h3v1h-3zM572 367h1v1h-1zM573 368h1v1h-1zM574 369h1v1h-1zM575 370h1v1h-1zM576 371h1v1h-1zM577 372h1v2h-1zM578 374h1v2h-1zM579 376h1v2h-1zM580 378h1v1h-1zM581 379h1v2h-1zM582 381h1v1h-1zM582 382h2v1h-2zM583 383h1v1h-1zM584 378h1v4h-1zM585 374h1v4h-1zM586 371h1v3h-1zM587 369h1v2h-1zM588 366h1v3h-1zM589 364h1v2h-1zM590 362h1v2h-1zM591 361h1v1h-1zM592 359h1v2h-1zM593 358h1v1h-1zM594 357h1v1h-1zM595 356h3v1h-3zM598 355h1v1h-1zM599 356h4v1h-4zM602 355h1v1h-1zM603 354h1v1h-1zM604 351h1v3h-1zM605 350h1v1h-1zM606 348h1v2h-1zM607 347h1v1h-1zM608 346h1v1h-1zM609 344h1v2h-1zM610 343h1v1h-1zM611 342h1v1h-1zM612 341h2v1h-2zM614 342h4v1h-4zM618 343h2v1h-2zM620 344h2v1h-2zM622 343h1v1h-1zM623 342h2v1h-2zM625 341h1v1h-1zM626 340h1v1h-1zM627 339h2v1h-2zM629 340h3v1h-3zM632 341h1v1h-1zM633 342h2v1h-2zM635 343h1v1h-1zM636 344h1v1h-1zM637 345h2v1h-2zM639 346h3v1h-3zM642 347h2v1h-2zM644 348h1v1h-1zM645 349h2v1h-2zM647 350h1v1h-1zM648 351h1v1h-1zM649 352h1v1h-1zM650 353h2v1h-2zM652 354h1v1h-1zM653 355h4v1h-4zM657 354h1v1h-1zM658 353h1v1h-1zM659 352h1v1h-1zM660 351h1v1h-1zM661 350h1v1h-1zM662 348h1v2h-1zM663 346h1v2h-1zM664 344h1v2h-1zM665 342h1v2h-1zM666 341h1v1h-1zM667 340h3v1h-3zM670 339h3v1h-3zM673 340h5v1h-5zM678 339h1v1h-1zM679 338h3v1h-3zM682 337h2v1h-2zM684 338h2v1h-2zM686 339h1v2h-1zM687 341h1v2h-1zM688 343h1v2h-1zM689 345h1v2h-1zM690 347h1v3h-1zM691 350h1v2h-1zM692 352h1v2h-1zM693 354h1v2h-1zM694 356h1v1h-1zM695 357h1v1h-1zM696 358h1v2h-1zM697 360h1v1h-1zM698 361h1v2h-1zM699 363h1v1h-1zM700 364h1v1h-1zM701 365h1v2h-1zM702 367h1v2h-1zM703 369h1v1h-1zM704 370h1v3h-1zM705 373h1v1h-1zM706 374h1v3h-1zM707 377h1v2h-1zM708 379h1v2h-1zM709 381h1v3h-1zM710 384h1v2h-1zM711 386h1v2h-1z"/>
<rect x="3" y="319" width="1" height="88" fill="#000"/>
<rect x="719" y="319" width="1" height="88" fill="#000"/>
<rect x="3" y="406" width="717" height="1" fill="#000"/>
<rect x="3" y="319" width="7" height="1" fill="#000"/>
<rect x="357" y="319" width="363" height="1" fill="#000"/>
<line x1="4" y1="421.5" x2="719" y2="421.5" stroke="#000" stroke-width="1" stroke-dasharray="1 7"/>
<rect x="720" y="421" width="4" height="1" fill="#000"/>
<line x1="4" y1="452.5" x2="719" y2="452.5" stroke="#000" stroke-width="1" stroke-dasharray="1 7"/>
<rect x="720" y="452" width="4" height="1" fill="#000"/>
<line x1="4" y1="484.5" x2="719" y2="484.5" stroke="#000" stroke-width="1" stroke-dasharray="1 7"/>
<rect x="720" y="484" width="4" height="1" fill="#000"/>
<line x1="4" y1="516.5" x2="719" y2="516.5" stroke="#000" stroke-width="1" stroke-dasharray="1 7"/>
<rect x="720" y="516" width="4" height="1" fill="#000"/>
<line x1="4" y1="547.5" x2="719" y2="547.5" stroke="#000" stroke-width="1" stroke-dasharray="1 7"/>
<rect x="720" y="547" width="4" height="1" fill="#000"/>
<line x1="4" y1="579.5" x2="719" y2="579.5" stroke="#000" stroke-width="1" stroke-dasharray="1 7"/>
<rect x="720" y="579" width="4" height="1" fill="#000"/>
<line x1="4" y1="610.5" x2="719" y2="610.5" stroke="#000" stroke-width="1" stroke-dasharray="1 7"/>
<rect x="720" y="610" width="4" height="1" fill="#000"/>
<line x1="4" y1="642.5" x2="719" y2="642.5" stroke="#000" stroke-width="1" stroke-dasharray="1 7"/>
<rect x="720" y="642" width="4" height="1" fill="#000"/>
<line x1="4" y1="673.5" x2="719" y2="673.5" stroke="#000" stroke-width="1" stroke-dasharray="1 7"/>
<rect x="720" y="673" width="4" height="1" fill="#000"/>
<line x1="4" y1="705.5" x2="719" y2="705.5" stroke="#000" stroke-width="1" stroke-dasharray="1 7"/>
<rect x="720" y="705" width="4" height="1" fill="#000"/>
<rect x="4" y="716" width="6" height="3" fill="#ff0000"/>
<rect x="11" y="716" width="6" height="3" fill="#ff0000"/>
<rect x="18" y="716" width="3" height="3" fill="#ff0000"/>
<rect x="22" y="716" width="6" height="3" fill="#ff0000"/>
<rect x="29" y="716" width="3" height="3" fill="#ff0000"/>
<rect x="33" y="704" width="6" height="3" fill="#ff0000"/>
<rect x="40" y="704" width="3" height="3" fill="#ff0000"/>
<rect x="44" y="704" width="6" height="3" fill="#ff0000"/>
<rect x="51" y="704" width="3" height="3" fill="#ff0000"/>
<rect x="55" y="704" width="6" height="3" fill="#ff0000"/>
<rect x="62" y="660" width="6" height="3" fill="#ff0000"/>
<rect x="69" y="660" width="3" height="3" fill="#ff0000"/>
<rect x="73" y="660" width="6" height="3" fill="#ff0000"/>
<rect x="80" y="660" width="3" height="3" fill="#ff0000"/>
<rect x="84" y="660" width="6" height="3" fill="#ff0000"/>
<rect x="91" y="660" width="3" height="3" fill="#ff0000"/>
<rect x="95" y="660" width="6" height="3" fill="#ff0000"/>
<rect x="102" y="660" width="3" height="3" fill="#ff0000"/>
<rect x="106" y="660" width="6" height="3" fill="#ff0000"/>
<rect x="113" y="660" width="3" height="3" fill="#ff0000"/>
<rect x="117" y="660" width="6" height="3" fill="#ff0000"/>
<rect x="124" y="660" width="3" height="3" fill="#ff0000"/>
<rect x="128" y="660" width="6" height="3" fill="#ff0000"/>
<rect x="135" y="660" width="3" height="3" fill="#ff0000"/>
<rect x="139" y="660" width="6" height="3" fill="#ff0000"/>
<rect x="146" y="660" width="3" height="3" fill="#ff0000"/>
<rect x="150" y="660" width="6" height="3" fill="#ff0000"/>
<rect x="157" y="650" width="6" height="3" fill="#ff0000"/>
<rect x="164" y="650" width="3" height="3" fill="#ff0000"/>
<rect x="168" y="650" width="6" height="3" fill="#ff0000"/>
<rect x="175" y="650" width="3" height="3" fill="#ff0000"/>
<rect x="179" y="650" width="6" height="3" fill="#ff0000"/>
<rect x="186" y="650" width="3" height="3" fill="#ff0000"/>
<rect x="190" y="650" width="6" height="3" fill="#ff0000"/>
<rect x="197" y="650" width="3" height="3" fill="#ff0000"/>
<rect x="201" y="650" width="6" height="3" fill="#ff0000"/>
<rect x="208" y="650" width="3" height="3" fill="#ff0000"/>
<rect x="212" y="650" width="6" height="3" fill="#ff0000"/>
<rect x="219" y="650" width="3" height="3" fill="#ff0000"/>
<rect x="223" y="650" width="6" height="3" fill="#ff0000"/>
<rect x="230" y="650" width="3" height="3" fill="#ff0000"/>
<rect x="234" y="631" width="6" height="3" fill="#ff0000"/>
<rect x="241" y="631" width="3" height="3" fill="#ff0000"/>
<rect x="245" y="631" width="6" height="3" fill="#ff0000"/>
<rect x="252" y="631" width="3" height="3" fill="#ff0000"/>
<rect x="256" y="631" width="6" height="3" fill="#ff0000"/>
<rect x="263" y="631" width="3" height="3" fill="#ff0000"/>
<rect x="267" y="631" width="6" height="3" fill="#ff0000"/>
<rect x="274" y="631" width="3" height="3" fill="#ff0000"/>
<rect x="278" y="631" width="6" height="3" fill="#ff0000"/>
<rect x="285" y="631" width="3" height="3" fill="#ff0000"/>
<rect x="289" y="631" width="6" height="3" fill="#ff0000"/>
<rect x="296" y="631" width="3" height="3" fill="#ff0000"/>
<rect x="300" y="631" width="6" height="3" fill="#ff0000"/>
<rect x="307" y="631" width="3" height="3" fill="#ff0000"/>
<rect x="311" y="631" width="6" height="3" fill="#ff0000"/>
<rect x="318" y="631" width="3" height="3" fill="#ff0000"/>
<rect x="322" y="631" width="6" height="3" fill="#ff0000"/>
<rect x="329" y="634" width="6" height="3" fill="#ff0000"/>
<rect x="336" y="634" width="3" height="3" fill="#ff0000"/>
<rect x="340" y="634" width="6" height="3" fill="#ff0000"/>
<rect x="347" y="634" width="3" height="3" fill="#ff0000"/>
<rect x="351" y="634" width="6" height="3" fill="#ff0000"/>
<rect x="358" y="634" width="3" height="3" fill="#ff0000"/>
<rect x="362" y="634" width="4" height="3" fill="#ff0000"/>
<rect x="366" y="597" width="6" height="3" fill="#ff0000"/>
<rect x="373" y="597" width="3" height="3" fill="#ff0000"/>
<rect x="377" y="597" width="6" height="3" fill="#ff0000"/>
<rect x="384" y="597" width="3" height="3" fill="#ff0000"/>
<rect x="388" y="597" width="6" height="3" fill="#ff0000"/>
<rect x="395" y="597" width="3" height="3" fill="#ff0000"/>
<rect x="399" y="597" width="6" height="3" fill="#ff0000"/>
<rect x="406" y="597" width="3" height="3" fill="#ff0000"/>
<rect x="410" y="597" width="3" height="3" fill="#ff0000"/>
<rect x="414" y="530" width="6" height="3" fill="#ff0000"/>
<rect x="421" y="530" width="3" height="3" fill="#ff0000"/>
<rect x="428" y="578" width="6" height="3" fill="#ff0000"/>
<rect x="435" y="578" width="3" height="3" fill="#ff0000"/>
<rect x="439" y="578" width="6" height="3" fill="#ff0000"/>
<rect x="446" y="578" width="3" height="3" fill="#ff0000"/>
<rect x="450" y="578" width="6" height="3" fill="#ff0000"/>
<rect x="457" y="578" width="3" height="3" fill="#ff0000"/>
<rect x="461" y="578" width="6" height="3" fill="#ff0000"/>
<rect x="468" y="578" width="3" height="3" fill="#ff0000"/>
<rect x="472" y="578" width="6" height="3" fill="#ff0000"/>
<rect x="479" y="578" width="3" height="3" fill="#ff0000"/>
<rect x="483" y="578" width="6" height="3" fill="#ff0000"/>
<rect x="490" y="578" width="3" height="3" fill="#ff0000"/>
<rect x="494" y="578" width="6" height="3" fill="#ff0000"/>
<rect x="501" y="578" width="3" height="3" fill="#ff0000"/>
<rect x="505" y="578" width="6" height="3" fill="#ff0000"/>
<rect x="512" y="578" width="3" height="3" fill="#ff0000"/>
<rect x="516" y="578" width="6" height="3" fill="#ff0000"/>
<rect x="523" y="578" width="3" height="3" fill="#ff0000"/>
<rect x="527" y="578" width="6" height="3" fill="#ff0000"/>
<rect x="534" y="578" width="3" height="3" fill="#ff0000"/>
<rect x="538" y="578" width="6" height="3" fill="#ff0000"/>
<rect x="545" y="578" width="3" height="3" fill="#ff0000"/>
<rect x="549" y="578" width="6" height="3" fill="#ff0000"/>
<rect x="556" y="578" width="3" height="3" fill="#ff0000"/>
<rect x="560" y="578" width="6" height="3" fill="#ff0000"/>
<rect x="567" y="578" width="3" height="3" fill="#ff0000"/>
<rect x="571" y="578" width="6" height="3" fill="#ff0000"/>
<rect x="578" y="578" width="3" height="3" fill="#ff0000"/>
<rect x="582" y="578" width="6" height="3" fill="#ff0000"/>
<rect x="589" y="578" width="3" height="3" fill="#ff0000"/>
<rect x="593" y="578" width="6" height="3" fill="#ff0000"/>
<rect x="600" y="578" width="3" height="3" fill="#ff0000"/>
<rect x="604" y="578" width="6" height="3" fill="#ff0000"/>
<rect x="609" y="612" width="6" height="3" fill="#ff0000"/>
<rect x="616" y="612" width="3" height="3" fill="#ff0000"/>
<rect x="620" y="612" width="6" height="3" fill="#ff0000"/>
<rect x="627" y="612" width="3" height="3" fill="#ff0000"/>
<rect x="631" y="612" width="2" height="3" fill="#ff0000"/>
<rect x="633" y="587" width="6" height="3" fill="#ff0000"/>
<rect x="640" y="587" width="3" height="3" fill="#ff0000"/>
<rect x="644" y="587" width="6" height="3" fill="#ff0000"/>
<rect x="651" y="587" width="3" height="3" fill="#ff0000"/>
<rect x="655" y="587" width="6" height="3" fill="#ff0000"/>
<rect x="662" y="587" width="3" height="3" fill="#ff0000"/>
<rect x="666" y="587" width="6" height="3" fill="#ff0000"/>
<rect x="674" y="521" width="6" height="3" fill="#ff0000"/>
<rect x="681" y="521" width="3" height="3" fill="#ff0000"/>
<rect x="685" y="521" width="3" height="3" fill="#ff0000"/>
<rect x="685" y="454" width="6" height="3" fill="#ff0000"/>
<rect x="692" y="454" width="3" height="3" fill="#ff0000"/>
<rect x="696" y="454" width="6" height="3" fill="#ff0000"/>
<rect x="703" y="454" width="3" height="3" fill="#ff0000"/>
<rect x="707" y="454" width="6" height="3" fill="#ff0000"/>
<rect x="4" y="724" width="6" height="3" fill="#009900"/>
<rect x="11" y="724" width="6" height="3" fill="#009900"/>
<rect x="18" y="724" width="3" height="3" fill="#009900"/>
<rect x="22" y="724" width="6" height="3" fill="#009900"/>
<rect x="29" y="724" width="3" height="3" fill="#009900"/>
<rect x="33" y="724" width="6" height="3" fill="#009900"/>
<rect x="40" y="724" width="3" height="3" fill="#009900"/>
<rect x="44" y="724" width="6" height="3" fill="#009900"/>
<rect x="51" y="724" width="3" height="3" fill="#009900"/>
<rect x="55" y="724" width="6" height="3" fill="#009900"/>
<rect x="62" y="724" width="3" height="3" fill="#009900"/>
<rect x="66" y="724" width="6" height="3" fill="#009900"/>
<rect x="73" y="724" width="3" height="3" fill="#009900"/>
<rect x="77" y="724" width="6" height="3" fill="#009900"/>
<rect x="84" y="724" width="3" height="3" fill="#009900"/>
<rect x="88" y="724" width="6" height="3" fill="#009900"/>
<rect x="95" y="724" width="3" height="3" fill="#009900"/>
<rect x="99" y="724" width="6" height="3" fill="#009900"/>
<rect x="106" y="724" width="3" height="3" fill="#009900"/>
<rect x="110" y="724" width="6" height="3" fill="#009900"/>
<rect x="117" y="724" width="3" height="3" fill="#009900"/>
<rect x="121" y="724" width="6" height="3" fill="#009900"/>
<rect x="128" y="724" width="3" height="3" fill="#009900"/>
<rect x="132" y="690" width="6" height="3" fill="#009900"/>
<rect x="139" y="690" width="3" height="3" fill="#009900"/>
<rect x="143" y="690" width="6" height="3" fill="#009900"/>
<rect x="150" y="690" width="3" height="3" fill="#009900"/>
<rect x="154" y="690" width="6" height="3" fill="#009900"/>
<rect x="161" y="690" width="3" height="3" fill="#009900"/>
<rect x="165" y="690" width="6" height="3" fill="#009900"/>
<rect x="172" y="690" width="3" height="3" fill="#009900"/>
<rect x="176" y="690" width="6" height="3" fill="#009900"/>
<rect x="183" y="690" width="3" height="3" fill="#009900"/>
<rect x="187" y="690" width="6" height="3" fill="#009900"/>
<rect x="194" y="690" width="3" height="3" fill="#009900"/>
<rect x="198" y="690" width="6" height="3" fill="#009900"/>
<rect x="205" y="690" width="3" height="3" fill="#009900"/>
<rect x="209" y="690" width="6" height="3" fill="#009900"/>
<rect x="216" y="690" width="3" height="3" fill="#009900"/>
<rect x="220" y="690" width="6" height="3" fill="#009900"/>
<rect x="227" y="690" width="3" height="3" fill="#009900"/>
<rect x="231" y="690" width="6" height="3" fill="#009900"/>
<rect x="238" y="690" width="3" height="3" fill="#009900"/>
<rect x="242" y="690" width="6" height="3" fill="#009900"/>
<rect x="249" y="690" width="3" height="3" fill="#009900"/>
<rect x="253" y="690" width="6" height="3" fill="#009900"/>
<rect x="260" y="690" width="3" height="3" fill="#009900"/>
<rect x="264" y="690" width="6" height="3" fill="#009900"/>
<rect x="271" y="690" width="3" height="3" fill="#009900"/>
<rect x="275" y="690" width="6" height="3" fill="#009900"/>
<rect x="282" y="690" width="3" height="3" fill="#009900"/>
<rect x="286" y="690" width="5" height="3" fill="#009900"/>
<rect x="293" y="650" width="6" height="3" fill="#009900"/>
<rect x="300" y="650" width="3" height="3" fill="#009900"/>
<rect x="304" y="650" width="5" height="3" fill="#009900"/>
<rect x="311" y="648" width="6" height="3" fill="#009900"/>
<rect x="318" y="648" width="3" height="3" fill="#009900"/>
<rect x="322" y="648" width="6" height="3" fill="#009900"/>
<rect x="329" y="648" width="3" height="3" fill="#009900"/>
<rect x="333" y="648" width="6" height="3" fill="#009900"/>
<rect x="340" y="648" width="3" height="3" fill="#009900"/>
<rect x="344" y="648" width="6" height="3" fill="#009900"/>
<rect x="351" y="648" width="3" height="3" fill="#009900"/>
<rect x="355" y="648" width="6" height="3" fill="#009900"/>
<rect x="362" y="648" width="3" height="3" fill="#009900"/>
<rect x="366" y="648" width="6" height="3" fill="#009900"/>
<rect x="373" y="648" width="3" height="3" fill="#009900"/>
<rect x="377" y="648" width="6" height="3" fill="#009900"/>
<rect x="384" y="648" width="3" height="3" fill="#009900"/>
<rect x="388" y="648" width="6" height="3" fill="#009900"/>
<rect x="395" y="648" width="3" height="3" fill="#009900"/>
<rect x="399" y="648" width="6" height="3" fill="#009900"/>
<rect x="406" y="648" width="3" height="3" fill="#009900"/>
<rect x="410" y="648" width="6" height="3" fill="#009900"/>
<rect x="417" y="648" width="3" height="3" fill="#009900"/>
<rect x="421" y="648" width="6" height="3" fill="#009900"/>
<rect x="428" y="648" width="3" height="3" fill="#009900"/>
<rect x="432" y="648" width="6" height="3" fill="#009900"/>
<rect x="439" y="648" width="3" height="3" fill="#009900"/>
<rect x="443" y="648" width="3" height="3" fill="#009900"/>
<rect x="447" y="614" width="6" height="3" fill="#009900"/>
<rect x="454" y="614" width="3" height="3" fill="#009900"/>
<rect x="458" y="614" width="3" height="3" fill="#009900"/>
<rect x="461" y="627" width="6" height="3" fill="#009900"/>
<rect x="468" y="627" width="3" height="3" fill="#009900"/>
<rect x="472" y="627" width="6" height="3" fill="#009900"/>
<rect x="479" y="627" width="3" height="3" fill="#009900"/>
<rect x="483" y="627" width="3" height="3" fill="#009900"/>
<rect x="487" y="663" width="6" height="3" fill="#009900"/>
<rect x="494" y="663" width="3" height="3" fill="#009900"/>
<rect x="498" y="663" width="6" height="3" fill="#009900"/>
<rect x="505" y="663" width="3" height="3" fill="#009900"/>
<rect x="509" y="663" width="6" height="3" fill="#009900"/>
<rect x="516" y="663" width="3" height="3" fill="#009900"/>
<rect x="520" y="663" width="6" height="3" fill="#009900"/>
<rect x="527" y="663" width="3" height="3" fill="#009900"/>
<rect x="531" y="663" width="6" height="3" fill="#009900"/>
<rect x="538" y="663" width="3" height="3" fill="#009900"/>
<rect x="542" y="663" width="6" height="3" fill="#009900"/>
<rect x="549" y="663" width="3" height="3" fill="#009900"/>
<rect x="553" y="663" width="6" height="3" fill="#009900"/>
<rect x="560" y="663" width="3" height="3" fill="#009900"/>
<rect x="564" y="663" width="6" height="3" fill="#009900"/>
<rect x="571" y="663" width="3" height="3" fill="#009900"/>
<rect x="575" y="663" width="6" height="3" fill="#009900"/>
<rect x="582" y="663" width="3" height="3" fill="#009900"/>
<rect x="586" y="663" width="6" height="3" fill="#009900"/>
<rect x="593" y="663" width="3" height="3" fill="#009900"/>
<rect x="597" y="663" width="6" height="3" fill="#009900"/>
<rect x="604" y="663" width="3" height="3" fill="#009900"/>
<rect x="608" y="663" width="6" height="3" fill="#009900"/>
<rect x="615" y="663" width="3" height="3" fill="#009900"/>
<rect x="619" y="663" width="6" height="3" fill="#009900"/>
<rect x="626" y="663" width="3" height="3" fill="#009900"/>
<rect x="630" y="663" width="6" height="3" fill="#009900"/>
<rect x="637" y="663" width="3" height="3" fill="#009900"/>
<rect x="641" y="663" width="6" height="3" fill="#009900"/>
<rect x="648" y="663" width="3" height="3" fill="#009900"/>
<rect x="652" y="663" width="6" height="3" fill="#009900"/>
<rect x="659" y="663" width="3" height="3" fill="#009900"/>
<rect x="663" y="663" width="6" height="3" fill="#009900"/>
<rect x="670" y="663" width="3" height="3" fill="#009900"/>
<rect x="674" y="663" width="6" height="3" fill="#009900"/>
<rect x="681" y="663" width="3" height="3" fill="#009900"/>
<rect x="685" y="663" width="6" height="3" fill="#009900"/>
<rect x="692" y="663" width="3" height="3" fill="#009900"/>
<rect x="696" y="663" width="6" height="3" fill="#009900"/>
<rect x="703" y="663" width="3" height="3" fill="#009900"/>
<rect x="707" y="663" width="6" height="3" fill="#009900"/>
<path fill="#0000ff" d="M4 719h3v1h-3zM7 720h12v1h-12zM19 719h4v1h-4zM23 718h3v1h-3zM26 717h2v1h-2zM28 716h2v1h-2zM30 715h1v1h-1zM31 714h2v1h-2zM33 713h1v1h-1zM34 712h2v1h-2zM36 711h2v1h-2zM38 710h4v1h-4zM42 709h3v1h-3zM45 708h1v1h-1zM46 707h1v1h-1zM47 706h2v1h-2zM49 705h1v1h-1zM50 704h1v1h-1zM51 703h1v1h-1zM52 701h1v2h-1zM53 700h1v1h-1zM54 698h1v2h-1zM55 697h1v1h-1zM56 694h1v3h-1zM57 693h1v1h-1zM58 691h1v2h-1zM59 689h1v2h-1zM60 688h1v1h-1zM61 686h1v2h-1zM62 685h1v1h-1zM63 683h1v2h-1zM64 682h1v1h-1zM65 680h1v2h-1zM66 679h1v1h-1zM67 677h1v2h-1zM68 676h1v1h-1zM69 674h1v2h-1zM70 673h1v1h-1zM71 672h2v1h-2zM73 671h1v1h-1zM74 670h2v1h-2zM76 669h3v1h-3zM79 668h4v1h-4zM83 667h16v1h-16zM99 668h3v1h-3zM102 669h9v1h-9zM111 670h2v1h-2zM113 671h4v1h-4zM117 672h5v1h-5zM122 673h2v1h-2zM124 674h3v1h-3zM127 675h2v1h-2zM129 676h1v1h-1zM130 677h1v1h-1zM131 678h1v2h-1zM132 680h1v1h-1zM133 681h1v1h-1zM134 682h1v1h-1zM135 683h1v1h-1zM136 684h1v1h-1zM137 685h1v1h-1zM138 686h1v1h-1zM139 687h2v1h-2zM141 688h2v1h-2zM143 689h3v1h-3zM146 690h5v1h-5zM151 689h3v1h-3zM154 687h1v2h-1zM155 685h1v2h-1zM156 683h1v2h-1zM157 682h1v1h-1zM158 679h1v3h-1zM159 678h1v1h-1zM160 675h1v3h-1zM161 674h1v1h-1zM162 672h1v2h-1zM163 671h1v1h-1zM164 670h1v1h-1zM165 668h1v2h-1zM166 666h1v2h-1zM167 664h1v2h-1zM168 662h1v2h-1zM169 661h1v1h-1zM170 660h1v1h-1zM171 659h1v1h-1zM172 658h1v1h-1zM173 657h2v1h-2zM175 656h4v1h-4zM179 655h18v1h-18zM197 656h4v1h-4zM201 657h2v1h-2zM203 658h1v1h-1zM204 659h2v1h-2zM206 660h6v1h-6zM212 661h2v1h-2zM214 662h5v1h-5zM219 661h1v1h-1zM220 660h2v1h-2zM222 659h1v1h-1zM223 658h1v1h-1zM224 657h1v1h-1zM225 656h1v1h-1zM226 655h1v1h-1zM227 654h1v1h-1zM228 652h1v2h-1zM229 650h1v2h-1zM230 648h1v2h-1zM231 647h1v1h-1zM232 645h1v2h-1zM233 644h1v1h-1zM234 642h1v2h-1zM235 641h1v1h-1zM236 640h1v1h-1zM237 639h1v1h-1zM238 638h1v1h-1zM239 637h1v1h-1zM240 636h2v1h-2zM242 635h1v1h-1zM243 634h7v1h-7zM250 635h2v1h-2zM252 636h4v1h-4zM256 637h4v1h-4zM260 638h9v1h-9zM269 639h7v1h-7zM276 640h3v1h-3zM279 641h4v1h-4zM283 642h6v1h-6zM289 643h3v1h-3zM292 644h5v1h-5zM297 645h3v1h-3zM300 646h2v1h-2zM302 647h5v1h-5zM307 648h6v1h-6zM313 647h5v1h-5zM318 646h3v1h-3zM321 645h2v1h-2zM323 644h2v1h-2zM325 643h1v1h-1zM326 642h2v1h-2zM328 641h2v1h-2zM330 640h1v1h-1zM331 639h1v1h-1zM332 638h2v1h-2zM334 637h1v1h-1zM335 636h1v1h-1zM336 635h1v1h-1zM337 634h1v1h-1zM338 633h1v1h-1zM339 632h1v1h-1zM340 631h1v1h-1zM341 630h1v1h-1zM342 629h1v1h-1zM343 628h1v1h-1zM344 626h1v2h-1zM345 625h1v1h-1zM346 623h1v2h-1zM347 622h1v1h-1zM348 621h1v1h-1zM349 619h1v2h-1zM350 618h1v1h-1zM351 617h1v1h-1zM352 615h1v2h-1zM353 614h1v1h-1zM354 612h1v2h-1zM355 611h1v1h-1zM356 609h1v2h-1zM357 608h1v1h-1zM358 607h1v1h-1zM359 605h1v2h-1zM360 604h1v1h-1zM361 603h1v1h-1zM362 601h1v2h-1zM363 600h1v1h-1zM364 599h1v1h-1zM365 598h1v1h-1zM366 597h1v1h-1zM367 596h1v1h-1zM368 595h2v1h-2zM370 594h2v1h-2zM372 593h13v1h-13zM385 594h5v1h-5zM390 595h2v1h-2zM392 596h5v1h-5zM397 595h3v1h-3zM400 594h2v1h-2zM402 593h1v1h-1zM403 591h1v2h-1zM404 589h1v2h-1zM405 587h1v2h-1zM406 585h1v2h-1zM407 583h1v2h-1zM408 580h1v3h-1zM409 578h1v2h-1zM410 575h1v3h-1zM411 573h1v2h-1zM412 570h1v3h-1zM413 568h1v2h-1zM414 566h1v2h-1zM415 563h1v3h-1zM416 561h1v2h-1zM417 558h1v3h-1zM418 556h1v2h-1zM419 553h1v3h-1zM420 551h1v2h-1zM421 549h1v2h-1zM422 547h1v2h-1zM423 545h1v2h-1zM424 543h1v2h-1zM425 541h1v2h-1zM426 540h1v1h-1zM427 539h2v1h-2zM429 538h1v1h-1zM430 539h1v1h-1zM431 540h1v1h-1zM432 541h1v1h-1zM433 542h1v2h-1zM434 544h1v2h-1zM435 546h1v2h-1zM436 548h1v2h-1zM437 550h1v2h-1zM438 552h1v3h-1zM439 555h1v3h-1zM440 558h1v4h-1zM441 562h1v3h-1zM442 565h1v3h-1zM443 568h1v3h-1zM444 571h1v3h-1zM445 574h1v3h-1zM446 577h1v3h-1zM447 580h1v3h-1zM448 583h1v3h-1zM449 586h1v4h-1zM450 590h1v3h-1zM451 593h1v4h-1zM452 597h1v3h-1zM453 600h1v2h-1zM454 602h1v2h-1zM455 604h1v3h-1zM456 607h1v2h-1zM457 609h1v2h-1zM458 611h1v3h-1zM459 614h1v2h-1zM460 616h1v2h-1zM461 618h1v2h-1zM462 620h1v2h-1zM463 622h1v2h-1zM464 624h1v1h-1zM465 625h1v1h-1zM466 626h1v2h-1zM467 628h1v1h-1zM468 629h1v1h-1zM469 630h1v1h-1zM470 631h1v1h-1zM471 632h2v1h-2zM473 633h1v1h-1zM474 634h1v1h-1zM475 635h1v1h-1zM476 636h1v1h-1zM477 637h1v1h-1zM478 638h1v1h-1zM479 639h1v1h-1zM480 640h1v1h-1zM481 641h1v1h-1zM482 642h1v1h-1zM483 643h1v1h-1zM484 644h1v2h-1zM485 646h1v1h-1zM486 647h1v2h-1zM487 649h1v1h-1zM488 650h1v1h-1zM489 651h1v2h-1zM490 653h1v1h-1zM491 654h1v1h-1zM492 655h1v1h-1zM493 656h2v1h-2zM495 657h8v1h-8zM503 656h2v1h-2zM505 655h2v1h-2zM507 654h1v1h-1zM508 653h1v1h-1zM509 652h2v1h-2zM511 651h1v1h-1zM512 650h1v1h-1zM513 649h1v1h-1zM514 648h2v1h-2zM516 647h1v1h-1zM517 646h1v1h-1zM518 645h1v1h-1zM519 644h2v1h-2zM521 643h1v1h-1zM522 642h1v1h-1zM523 640h1v2h-1zM524 638h1v2h-1zM525 636h1v2h-1zM526 635h1v1h-1zM527 633h1v2h-1zM528 631h1v2h-1zM529 630h1v1h-1zM530 628h1v2h-1zM531 627h1v1h-1zM532 625h1v2h-1zM533 624h1v1h-1zM534 622h1v2h-1zM535 621h1v1h-1zM536 620h2v1h-2zM538 619h1v1h-1zM539 618h7v1h-7zM546 619h1v1h-1zM547 620h3v1h-3zM550 621h2v1h-2zM552 622h2v1h-2zM554 623h2v1h-2zM556 624h3v1h-3zM559 625h4v1h-4zM563 626h13v1h-13zM576 627h3v1h-3zM579 628h2v1h-2zM581 629h2v1h-2zM583 630h2v1h-2zM585 631h1v1h-1zM586 632h2v1h-2zM588 633h1v1h-1zM589 632h3v1h-3zM592 631h2v1h-2zM594 630h3v1h-3zM597 629h2v1h-2zM599 628h2v1h-2zM601 627h2v1h-2zM603 626h1v1h-1zM604 625h2v1h-2zM606 624h1v1h-1zM607 623h1v1h-1zM608 621h1v2h-1zM609 620h1v1h-1zM610 619h1v1h-1zM611 618h1v1h-1zM612 616h1v2h-1zM613 615h1v1h-1zM614 614h1v1h-1zM615 613h1v1h-1zM616 612h1v1h-1zM617 611h1v1h-1zM618 610h1v1h-1zM619 609h1v1h-1zM620 608h1v1h-1zM621 607h1v1h-1zM622 605h1v2h-1zM623 604h1v1h-1zM624 603h1v1h-1zM625 602h1v1h-1zM626 601h1v1h-1zM627 600h1v1h-1zM628 598h1v2h-1zM629 597h1v1h-1zM630 596h1v1h-1zM631 595h1v1h-1zM632 593h1v2h-1zM633 592h1v1h-1zM634 591h1v1h-1zM635 590h1v1h-1zM636 589h1v1h-1zM637 588h1v1h-1zM638 587h1v1h-1zM639 585h1v2h-1zM640 584h1v1h-1zM641 582h1v2h-1zM642 581h1v1h-1zM643 580h1v1h-1zM644 578h1v2h-1zM645 577h1v1h-1zM646 576h1v1h-1zM647 575h2v1h-2zM649 574h2v1h-2zM651 573h2v1h-2zM653 572h1v1h-1zM654 571h1v1h-1zM655 570h1v1h-1zM656 568h1v2h-1zM657 567h1v1h-1zM658 566h1v1h-1zM659 565h1v1h-1zM660 564h1v1h-1zM661 562h1v2h-1zM662 561h1v1h-1zM663 560h1v1h-1zM664 558h1v2h-1zM665 557h1v1h-1zM666 554h1v3h-1zM667 553h1v1h-1zM668 550h1v3h-1zM669 549h1v1h-1zM670 546h1v3h-1zM671 545h1v1h-1zM672 542h1v3h-1zM673 541h1v1h-1zM674 538h1v3h-1zM675 535h1v3h-1zM676 531h1v4h-1zM677 528h1v3h-1zM678 524h1v4h-1zM679 521h1v3h-1zM680 518h1v3h-1zM681 515h1v3h-1zM682 511h1v4h-1zM683 508h1v3h-1zM684 504h1v4h-1zM685 501h1v3h-1zM686 496h1v5h-1zM687 494h1v2h-1zM688 492h1v2h-1zM689 491h1v1h-1zM690 490h1v1h-1zM691 488h1v2h-1zM692 487h1v1h-1zM693 486h1v1h-1zM694 485h1v1h-1zM695 484h1v1h-1zM696 483h2v1h-2zM698 484h3v1h-3zM701 485h1v1h-1zM702 486h1v1h-1zM703 487h1v1h-1zM704 488h1v2h-1zM705 490h1v1h-1zM706 491h1v3h-1zM707 494h1v1h-1zM708 495h1v2h-1zM709 497h1v2h-1zM710 499h1v2h-1zM711 501h1v2h-1zM712 503h1v1h-1z"/>
<rect x="4" y="720" width="3" height="3" fill="#000"/>
<rect x="7" y="718" width="3" height="1" fill="#000"/>
<rect x="11" y="718" width="3" height="2" fill="#000"/>
<rect x="14" y="718" width="3" height="1" fill="#000"/>
<rect x="18" y="718" width="3" height="1" fill="#000"/>
<rect x="22" y="716" width="3" height="1" fill="#000"/>
<rect x="25" y="713" width="3" height="6" fill="#000"/>
<rect x="26" y="714" width="1" height="4" fill="#fff"/>
<rect x="30" y="705" width="1" height="1" fill="#000"/>
<rect x="29" y="706" width="3" height="5" fill="#000"/>
<rect x="30" y="707" width="1" height="3" fill="#fff"/>
<rect x="33" y="706" width="3" height="5" fill="#000"/>
<rect x="36" y="709" width="3" height="3" fill="#000"/>
<rect x="40" y="710" width="3" height="1" fill="#000"/>
<rect x="45" y="697" width="1" height="1" fill="#000"/>
<rect x="44" y="698" width="3" height="10" fill="#000"/>
<rect x="45" y="699" width="1" height="8" fill="#fff"/>
<rect x="48" y="683" width="1" height="2" fill="#000"/>
<rect x="47" y="685" width="3" height="9" fill="#000"/>
<rect x="48" y="686" width="1" height="7" fill="#fff"/>
<rect x="52" y="677" width="1" height="3" fill="#000"/>
<rect x="52" y="683" width="1" height="5" fill="#000"/>
<rect x="51" y="680" width="3" height="3" fill="#000"/>
<rect x="52" y="681" width="1" height="1" fill="#fff"/>
<rect x="56" y="675" width="1" height="5" fill="#000"/>
<rect x="55" y="672" width="3" height="3" fill="#000"/>
<rect x="56" y="673" width="1" height="1" fill="#fff"/>
<rect x="59" y="666" width="1" height="3" fill="#000"/>
<rect x="58" y="658" width="3" height="8" fill="#000"/>
<rect x="63" y="666" width="1" height="10" fill="#000"/>
<rect x="62" y="661" width="3" height="5" fill="#000"/>
<rect x="66" y="670" width="3" height="2" fill="#000"/>
<rect x="70" y="674" width="1" height="3" fill="#000"/>
<rect x="69" y="667" width="3" height="7" fill="#000"/>
<rect x="74" y="676" width="1" height="3" fill="#000"/>
<rect x="73" y="674" width="3" height="2" fill="#000"/>
<rect x="77" y="672" width="3" height="7" fill="#000"/>
<rect x="78" y="673" width="1" height="5" fill="#fff"/>
<rect x="80" y="668" width="3" height="7" fill="#000"/>
<rect x="81" y="669" width="1" height="5" fill="#fff"/>
<rect x="84" y="662" width="3" height="10" fill="#000"/>
<rect x="88" y="671" width="3" height="7" fill="#000"/>
<rect x="92" y="671" width="1" height="1" fill="#000"/>
<rect x="91" y="672" width="3" height="4" fill="#000"/>
<rect x="92" y="673" width="1" height="2" fill="#fff"/>
<rect x="96" y="676" width="1" height="3" fill="#000"/>
<rect x="95" y="674" width="3" height="2" fill="#000"/>
<rect x="100" y="672" width="1" height="2" fill="#000"/>
<rect x="99" y="674" width="3" height="1" fill="#000"/>
<rect x="103" y="676" width="1" height="1" fill="#000"/>
<rect x="102" y="677" width="3" height="2" fill="#000"/>
<rect x="107" y="672" width="1" height="2" fill="#000"/>
<rect x="106" y="674" width="3" height="5" fill="#000"/>
<rect x="107" y="675" width="1" height="3" fill="#fff"/>
<rect x="111" y="670" width="1" height="3" fill="#000"/>
<rect x="110" y="673" width="3" height="4" fill="#000"/>
<rect x="113" y="674" width="3" height="5" fill="#000"/>
<rect x="117" y="677" width="3" height="3" fill="#000"/>
<rect x="118" y="678" width="1" height="1" fill="#fff"/>
<rect x="121" y="673" width="3" height="2" fill="#000"/>
<rect x="125" y="677" width="1" height="1" fill="#000"/>
<rect x="124" y="674" width="3" height="3" fill="#000"/>
<rect x="128" y="679" width="3" height="15" fill="#000"/>
<rect x="133" y="689" width="1" height="2" fill="#000"/>
<rect x="132" y="686" width="3" height="3" fill="#000"/>
<rect x="133" y="687" width="1" height="1" fill="#fff"/>
<rect x="135" y="686" width="3" height="6" fill="#000"/>
<rect x="139" y="692" width="3" height="4" fill="#000"/>
<rect x="143" y="690" width="3" height="5" fill="#000"/>
<rect x="144" y="691" width="1" height="3" fill="#fff"/>
<rect x="146" y="690" width="3" height="4" fill="#000"/>
<rect x="147" y="691" width="1" height="2" fill="#fff"/>
<rect x="150" y="656" width="3" height="24" fill="#000"/>
<rect x="151" y="657" width="1" height="22" fill="#fff"/>
<rect x="155" y="642" width="1" height="9" fill="#000"/>
<rect x="155" y="652" width="1" height="8" fill="#000"/>
<rect x="154" y="651" width="3" height="1" fill="#000"/>
<rect x="157" y="651" width="3" height="12" fill="#000"/>
<rect x="161" y="653" width="3" height="8" fill="#000"/>
<rect x="162" y="654" width="1" height="6" fill="#fff"/>
<rect x="166" y="646" width="1" height="5" fill="#000"/>
<rect x="165" y="651" width="3" height="2" fill="#000"/>
<rect x="169" y="654" width="1" height="3" fill="#000"/>
<rect x="168" y="651" width="3" height="3" fill="#000"/>
<rect x="172" y="656" width="3" height="7" fill="#000"/>
<rect x="177" y="661" width="1" height="3" fill="#000"/>
<rect x="176" y="660" width="3" height="1" fill="#000"/>
<rect x="180" y="657" width="1" height="2" fill="#000"/>
<rect x="179" y="659" width="3" height="4" fill="#000"/>
<rect x="183" y="656" width="3" height="8" fill="#000"/>
<rect x="184" y="657" width="1" height="6" fill="#fff"/>
<rect x="188" y="664" width="1" height="3" fill="#000"/>
<rect x="187" y="662" width="3" height="2" fill="#000"/>
<rect x="190" y="660" width="3" height="2" fill="#000"/>
<rect x="195" y="655" width="1" height="2" fill="#000"/>
<rect x="195" y="658" width="1" height="2" fill="#000"/>
<rect x="194" y="657" width="3" height="1" fill="#000"/>
<rect x="198" y="661" width="3" height="8" fill="#000"/>
<rect x="202" y="671" width="1" height="4" fill="#000"/>
<rect x="201" y="664" width="3" height="7" fill="#000"/>
<rect x="206" y="662" width="1" height="1" fill="#000"/>
<rect x="205" y="663" width="3" height="8" fill="#000"/>
<rect x="209" y="660" width="3" height="11" fill="#000"/>
<rect x="210" y="661" width="1" height="9" fill="#fff"/>
<rect x="213" y="664" width="1" height="1" fill="#000"/>
<rect x="212" y="658" width="3" height="6" fill="#000"/>
<rect x="217" y="664" width="1" height="7" fill="#000"/>
<rect x="216" y="663" width="3" height="1" fill="#000"/>
<rect x="221" y="642" width="1" height="1" fill="#000"/>
<rect x="221" y="653" width="1" height="8" fill="#000"/>
<rect x="220" y="643" width="3" height="10" fill="#000"/>
<rect x="221" y="644" width="1" height="8" fill="#fff"/>
<rect x="224" y="643" width="1" height="4" fill="#000"/>
<rect x="223" y="635" width="3" height="8" fill="#000"/>
<rect x="228" y="633" width="1" height="3" fill="#000"/>
<rect x="228" y="637" width="1" height="6" fill="#000"/>
<rect x="227" y="636" width="3" height="1" fill="#000"/>
<rect x="231" y="627" width="3" height="8" fill="#000"/>
<rect x="235" y="634" width="1" height="5" fill="#000"/>
<rect x="235" y="640" width="1" height="1" fill="#000"/>
<rect x="234" y="639" width="3" height="1" fill="#000"/>
<rect x="239" y="634" width="1" height="2" fill="#000"/>
<rect x="239" y="637" width="1" height="1" fill="#000"/>
<rect x="238" y="636" width="3" height="1" fill="#000"/>
<rect x="242" y="637" width="3" height="6" fill="#000"/>
<rect x="246" y="642" width="1" height="1" fill="#000"/>
<rect x="246" y="645" width="1" height="4" fill="#000"/>
<rect x="245" y="643" width="3" height="2" fill="#000"/>
<rect x="249" y="646" width="3" height="3" fill="#000"/>
<rect x="254" y="640" width="1" height="1" fill="#000"/>
<rect x="253" y="641" width="3" height="4" fill="#000"/>
<rect x="256" y="640" width="3" height="3" fill="#000"/>
<rect x="261" y="645" width="1" height="2" fill="#000"/>
<rect x="260" y="640" width="3" height="5" fill="#000"/>
<rect x="261" y="641" width="1" height="3" fill="#fff"/>
<rect x="263" y="634" width="3" height="18" fill="#000"/>
<rect x="267" y="640" width="3" height="5" fill="#000"/>
<rect x="268" y="641" width="1" height="3" fill="#fff"/>
<rect x="272" y="643" width="1" height="3" fill="#000"/>
<rect x="271" y="646" width="3" height="2" fill="#000"/>
<rect x="274" y="648" width="3" height="1" fill="#000"/>
<rect x="279" y="640" width="1" height="6" fill="#000"/>
<rect x="278" y="646" width="3" height="3" fill="#000"/>
<rect x="283" y="647" width="1" height="2" fill="#000"/>
<rect x="282" y="642" width="3" height="5" fill="#000"/>
<rect x="283" y="643" width="1" height="3" fill="#fff"/>
<rect x="285" y="642" width="3" height="2" fill="#000"/>
<rect x="290" y="652" width="1" height="2" fill="#000"/>
<rect x="289" y="647" width="3" height="5" fill="#000"/>
<rect x="293" y="644" width="3" height="8" fill="#000"/>
<rect x="294" y="645" width="1" height="6" fill="#fff"/>
<rect x="297" y="648" width="1" height="2" fill="#000"/>
<rect x="296" y="644" width="3" height="4" fill="#000"/>
<rect x="300" y="642" width="3" height="5" fill="#000"/>
<rect x="301" y="643" width="1" height="3" fill="#fff"/>
<rect x="305" y="642" width="1" height="5" fill="#000"/>
<rect x="304" y="647" width="3" height="3" fill="#000"/>
<rect x="305" y="648" width="1" height="1" fill="#fff"/>
<rect x="308" y="642" width="1" height="4" fill="#000"/>
<rect x="307" y="646" width="3" height="14" fill="#000"/>
<rect x="308" y="647" width="1" height="12" fill="#fff"/>
<rect x="312" y="644" width="1" height="5" fill="#000"/>
<rect x="311" y="642" width="3" height="2" fill="#000"/>
<rect x="315" y="638" width="3" height="7" fill="#000"/>
<rect x="318" y="643" width="3" height="2" fill="#000"/>
<rect x="323" y="645" width="1" height="2" fill="#000"/>
<rect x="322" y="644" width="3" height="1" fill="#000"/>
<rect x="327" y="635" width="1" height="1" fill="#000"/>
<rect x="326" y="636" width="3" height="5" fill="#000"/>
<rect x="327" y="637" width="1" height="3" fill="#fff"/>
<rect x="329" y="636" width="3" height="5" fill="#000"/>
<rect x="330" y="637" width="1" height="3" fill="#fff"/>
<rect x="333" y="634" width="3" height="3" fill="#000"/>
<rect x="334" y="635" width="1" height="1" fill="#fff"/>
<rect x="337" y="627" width="3" height="8" fill="#000"/>
<rect x="340" y="625" width="3" height="6" fill="#000"/>
<rect x="341" y="626" width="1" height="4" fill="#fff"/>
<rect x="344" y="608" width="3" height="11" fill="#000"/>
<rect x="345" y="609" width="1" height="9" fill="#fff"/>
<rect x="349" y="608" width="1" height="1" fill="#000"/>
<rect x="349" y="610" width="1" height="2" fill="#000"/>
<rect x="348" y="609" width="3" height="1" fill="#000"/>
<rect x="352" y="607" width="1" height="2" fill="#000"/>
<rect x="351" y="604" width="3" height="3" fill="#000"/>
<rect x="352" y="605" width="1" height="1" fill="#fff"/>
<rect x="355" y="604" width="3" height="3" fill="#000"/>
<rect x="360" y="598" width="1" height="2" fill="#000"/>
<rect x="359" y="600" width="3" height="9" fill="#000"/>
<rect x="360" y="601" width="1" height="7" fill="#fff"/>
<rect x="363" y="591" width="1" height="8" fill="#000"/>
<rect x="362" y="599" width="3" height="2" fill="#000"/>
<rect x="367" y="600" width="1" height="2" fill="#000"/>
<rect x="366" y="602" width="3" height="3" fill="#000"/>
<rect x="367" y="603" width="1" height="1" fill="#fff"/>
<rect x="370" y="602" width="3" height="4" fill="#000"/>
<rect x="373" y="604" width="3" height="1" fill="#000"/>
<rect x="377" y="602" width="3" height="4" fill="#000"/>
<rect x="382" y="604" width="1" height="1" fill="#000"/>
<rect x="382" y="606" width="1" height="1" fill="#000"/>
<rect x="381" y="605" width="3" height="1" fill="#000"/>
<rect x="384" y="605" width="3" height="3" fill="#000"/>
<rect x="385" y="606" width="1" height="1" fill="#fff"/>
<rect x="388" y="605" width="3" height="2" fill="#000"/>
<rect x="393" y="601" width="1" height="1" fill="#000"/>
<rect x="392" y="602" width="3" height="2" fill="#000"/>
<rect x="396" y="602" width="1" height="2" fill="#000"/>
<rect x="395" y="596" width="3" height="6" fill="#000"/>
<rect x="400" y="575" width="1" height="7" fill="#000"/>
<rect x="399" y="582" width="3" height="14" fill="#000"/>
<rect x="400" y="583" width="1" height="12" fill="#fff"/>
<rect x="404" y="554" width="1" height="12" fill="#000"/>
<rect x="403" y="566" width="3" height="9" fill="#000"/>
<rect x="404" y="567" width="1" height="7" fill="#fff"/>
<rect x="407" y="538" width="1" height="6" fill="#000"/>
<rect x="407" y="548" width="1" height="4" fill="#000"/>
<rect x="406" y="544" width="3" height="4" fill="#000"/>
<rect x="411" y="525" width="1" height="7" fill="#000"/>
<rect x="411" y="535" width="1" height="7" fill="#000"/>
<rect x="410" y="532" width="3" height="3" fill="#000"/>
<rect x="415" y="542" width="1" height="18" fill="#000"/>
<rect x="414" y="532" width="3" height="10" fill="#000"/>
<rect x="418" y="544" width="1" height="13" fill="#000"/>
<rect x="417" y="538" width="3" height="6" fill="#000"/>
<rect x="422" y="536" width="1" height="2" fill="#000"/>
<rect x="421" y="538" width="3" height="11" fill="#000"/>
<rect x="422" y="539" width="1" height="9" fill="#fff"/>
<rect x="426" y="504" width="1" height="7" fill="#000"/>
<rect x="425" y="511" width="3" height="27" fill="#000"/>
<rect x="426" y="512" width="1" height="25" fill="#fff"/>
<rect x="429" y="580" width="1" height="14" fill="#000"/>
<rect x="429" y="603" width="1" height="2" fill="#000"/>
<rect x="428" y="594" width="3" height="9" fill="#000"/>
<rect x="433" y="576" width="1" height="4" fill="#000"/>
<rect x="432" y="580" width="3" height="21" fill="#000"/>
<rect x="433" y="581" width="1" height="19" fill="#fff"/>
<rect x="437" y="571" width="1" height="5" fill="#000"/>
<rect x="436" y="576" width="3" height="14" fill="#000"/>
<rect x="440" y="575" width="1" height="13" fill="#000"/>
<rect x="440" y="590" width="1" height="3" fill="#000"/>
<rect x="439" y="588" width="3" height="2" fill="#000"/>
<rect x="444" y="595" width="1" height="14" fill="#000"/>
<rect x="444" y="618" width="1" height="2" fill="#000"/>
<rect x="443" y="609" width="3" height="9" fill="#000"/>
<rect x="447" y="606" width="3" height="9" fill="#000"/>
<rect x="451" y="615" width="1" height="5" fill="#000"/>
<rect x="450" y="606" width="3" height="9" fill="#000"/>
<rect x="454" y="618" width="3" height="8" fill="#000"/>
<rect x="458" y="626" width="3" height="3" fill="#000"/>
<rect x="459" y="627" width="1" height="1" fill="#fff"/>
<rect x="462" y="621" width="1" height="4" fill="#000"/>
<rect x="462" y="627" width="1" height="2" fill="#000"/>
<rect x="461" y="625" width="3" height="2" fill="#000"/>
<rect x="466" y="622" width="1" height="4" fill="#000"/>
<rect x="466" y="628" width="1" height="3" fill="#000"/>
<rect x="465" y="626" width="3" height="2" fill="#000"/>
<rect x="470" y="628" width="1" height="1" fill="#000"/>
<rect x="469" y="626" width="3" height="2" fill="#000"/>
<rect x="473" y="626" width="1" height="1" fill="#000"/>
<rect x="473" y="630" width="1" height="5" fill="#000"/>
<rect x="472" y="627" width="3" height="3" fill="#000"/>
<rect x="476" y="640" width="3" height="5" fill="#000"/>
<rect x="480" y="646" width="3" height="10" fill="#000"/>
<rect x="484" y="661" width="1" height="7" fill="#000"/>
<rect x="483" y="650" width="3" height="11" fill="#000"/>
<rect x="488" y="650" width="1" height="8" fill="#000"/>
<rect x="488" y="661" width="1" height="3" fill="#000"/>
<rect x="487" y="658" width="3" height="3" fill="#000"/>
<rect x="488" y="659" width="1" height="1" fill="#fff"/>
<rect x="492" y="647" width="1" height="5" fill="#000"/>
<rect x="491" y="652" width="3" height="3" fill="#000"/>
<rect x="492" y="653" width="1" height="1" fill="#fff"/>
<rect x="495" y="650" width="1" height="3" fill="#000"/>
<rect x="494" y="646" width="3" height="4" fill="#000"/>
<rect x="499" y="644" width="1" height="1" fill="#000"/>
<rect x="498" y="638" width="3" height="6" fill="#000"/>
<rect x="499" y="639" width="1" height="4" fill="#fff"/>
<rect x="503" y="629" width="1" height="5" fill="#000"/>
<rect x="502" y="634" width="3" height="4" fill="#000"/>
<rect x="506" y="638" width="1" height="2" fill="#000"/>
<rect x="505" y="634" width="3" height="4" fill="#000"/>
<rect x="510" y="643" width="1" height="2" fill="#000"/>
<rect x="509" y="639" width="3" height="4" fill="#000"/>
<rect x="512" y="638" width="3" height="5" fill="#000"/>
<rect x="513" y="639" width="1" height="3" fill="#fff"/>
<rect x="517" y="628" width="1" height="1" fill="#000"/>
<rect x="516" y="629" width="3" height="4" fill="#000"/>
<rect x="517" y="630" width="1" height="2" fill="#fff"/>
<rect x="521" y="619" width="1" height="5" fill="#000"/>
<rect x="521" y="626" width="1" height="5" fill="#000"/>
<rect x="520" y="624" width="3" height="2" fill="#000"/>
<rect x="524" y="621" width="1" height="5" fill="#000"/>
<rect x="523" y="619" width="3" height="2" fill="#000"/>
<rect x="528" y="624" width="1" height="1" fill="#000"/>
<rect x="527" y="619" width="3" height="5" fill="#000"/>
<rect x="528" y="620" width="1" height="3" fill="#fff"/>
<rect x="532" y="627" width="1" height="7" fill="#000"/>
<rect x="531" y="621" width="3" height="6" fill="#000"/>
<rect x="535" y="626" width="1" height="2" fill="#000"/>
<rect x="534" y="620" width="3" height="6" fill="#000"/>
<rect x="535" y="621" width="1" height="4" fill="#fff"/>
<rect x="539" y="626" width="1" height="2" fill="#000"/>
<rect x="539" y="641" width="1" height="2" fill="#000"/>
<rect x="538" y="628" width="3" height="13" fill="#000"/>
<rect x="543" y="629" width="1" height="3" fill="#000"/>
<rect x="542" y="632" width="3" height="4" fill="#000"/>
<rect x="546" y="634" width="1" height="2" fill="#000"/>
<rect x="545" y="633" width="3" height="1" fill="#000"/>
<rect x="549" y="632" width="3" height="6" fill="#000"/>
<rect x="550" y="633" width="1" height="4" fill="#fff"/>
<rect x="554" y="640" width="1" height="3" fill="#000"/>
<rect x="553" y="632" width="3" height="8" fill="#000"/>
<rect x="554" y="633" width="1" height="6" fill="#fff"/>
<rect x="557" y="631" width="1" height="2" fill="#000"/>
<rect x="557" y="636" width="1" height="5" fill="#000"/>
<rect x="556" y="633" width="3" height="3" fill="#000"/>
<rect x="557" y="634" width="1" height="1" fill="#fff"/>
<rect x="561" y="632" width="1" height="2" fill="#000"/>
<rect x="561" y="636" width="1" height="3" fill="#000"/>
<rect x="560" y="634" width="3" height="2" fill="#000"/>
<rect x="565" y="633" width="1" height="3" fill="#000"/>
<rect x="564" y="626" width="3" height="7" fill="#000"/>
<rect x="565" y="627" width="1" height="5" fill="#fff"/>
<rect x="568" y="625" width="1" height="1" fill="#000"/>
<rect x="568" y="627" width="1" height="8" fill="#000"/>
<rect x="567" y="626" width="3" height="1" fill="#000"/>
<rect x="572" y="630" width="1" height="2" fill="#000"/>
<rect x="571" y="627" width="3" height="3" fill="#000"/>
<rect x="576" y="636" width="1" height="6" fill="#000"/>
<rect x="575" y="632" width="3" height="4" fill="#000"/>
<rect x="579" y="637" width="1" height="1" fill="#000"/>
<rect x="578" y="636" width="3" height="1" fill="#000"/>
<rect x="583" y="632" width="1" height="4" fill="#000"/>
<rect x="582" y="636" width="3" height="2" fill="#000"/>
<rect x="587" y="634" width="1" height="3" fill="#000"/>
<rect x="586" y="622" width="3" height="12" fill="#000"/>
<rect x="587" y="623" width="1" height="10" fill="#fff"/>
<rect x="590" y="624" width="1" height="4" fill="#000"/>
<rect x="590" y="629" width="1" height="3" fill="#000"/>
<rect x="589" y="628" width="3" height="1" fill="#000"/>
<rect x="593" y="628" width="3" height="3" fill="#000"/>
<rect x="594" y="629" width="1" height="1" fill="#fff"/>
<rect x="597" y="624" width="3" height="4" fill="#000"/>
<rect x="598" y="625" width="1" height="2" fill="#fff"/>
<rect x="601" y="621" width="1" height="1" fill="#000"/>
<rect x="600" y="622" width="3" height="6" fill="#000"/>
<rect x="604" y="616" width="3" height="10" fill="#000"/>
<rect x="605" y="617" width="1" height="8" fill="#fff"/>
<rect x="609" y="610" width="1" height="2" fill="#000"/>
<rect x="609" y="615" width="1" height="1" fill="#000"/>
<rect x="608" y="612" width="3" height="3" fill="#000"/>
<rect x="612" y="615" width="1" height="3" fill="#000"/>
<rect x="611" y="614" width="3" height="1" fill="#000"/>
<rect x="616" y="609" width="1" height="2" fill="#000"/>
<rect x="616" y="614" width="1" height="4" fill="#000"/>
<rect x="615" y="611" width="3" height="3" fill="#000"/>
<rect x="620" y="611" width="1" height="3" fill="#000"/>
<rect x="619" y="608" width="3" height="3" fill="#000"/>
<rect x="620" y="609" width="1" height="1" fill="#fff"/>
<rect x="623" y="598" width="1" height="2" fill="#000"/>
<rect x="623" y="602" width="1" height="1" fill="#000"/>
<rect x="622" y="600" width="3" height="2" fill="#000"/>
<rect x="626" y="580" width="3" height="17" fill="#000"/>
<rect x="627" y="581" width="1" height="15" fill="#fff"/>
<rect x="631" y="579" width="1" height="3" fill="#000"/>
<rect x="630" y="582" width="3" height="10" fill="#000"/>
<rect x="634" y="595" width="1" height="7" fill="#000"/>
<rect x="633" y="590" width="3" height="5" fill="#000"/>
<rect x="634" y="591" width="1" height="3" fill="#fff"/>
<rect x="638" y="580" width="1" height="1" fill="#000"/>
<rect x="638" y="587" width="1" height="1" fill="#000"/>
<rect x="637" y="581" width="3" height="6" fill="#000"/>
<rect x="638" y="582" width="1" height="4" fill="#fff"/>
<rect x="642" y="569" width="1" height="6" fill="#000"/>
<rect x="642" y="577" width="1" height="2" fill="#000"/>
<rect x="641" y="575" width="3" height="2" fill="#000"/>
<rect x="644" y="571" width="3" height="9" fill="#000"/>
<rect x="649" y="576" width="1" height="3" fill="#000"/>
<rect x="648" y="579" width="3" height="4" fill="#000"/>
<rect x="649" y="580" width="1" height="2" fill="#fff"/>
<rect x="653" y="572" width="1" height="2" fill="#000"/>
<rect x="652" y="574" width="3" height="6" fill="#000"/>
<rect x="653" y="575" width="1" height="4" fill="#fff"/>
<rect x="656" y="565" width="1" height="4" fill="#000"/>
<rect x="656" y="570" width="1" height="4" fill="#000"/>
<rect x="655" y="569" width="3" height="1" fill="#000"/>
<rect x="660" y="542" width="1" height="15" fill="#000"/>
<rect x="660" y="564" width="1" height="2" fill="#000"/>
<rect x="659" y="557" width="3" height="7" fill="#000"/>
<rect x="660" y="558" width="1" height="5" fill="#fff"/>
<rect x="664" y="539" width="1" height="4" fill="#000"/>
<rect x="664" y="546" width="1" height="7" fill="#000"/>
<rect x="663" y="543" width="3" height="3" fill="#000"/>
<rect x="664" y="544" width="1" height="1" fill="#fff"/>
<rect x="667" y="523" width="1" height="2" fill="#000"/>
<rect x="667" y="528" width="1" height="4" fill="#000"/>
<rect x="666" y="525" width="3" height="3" fill="#000"/>
<rect x="671" y="514" width="1" height="2" fill="#000"/>
<rect x="671" y="522" width="1" height="5" fill="#000"/>
<rect x="670" y="516" width="3" height="6" fill="#000"/>
<rect x="674" y="524" width="3" height="7" fill="#000"/>
<rect x="675" y="525" width="1" height="5" fill="#fff"/>
<rect x="678" y="490" width="1" height="5" fill="#000"/>
<rect x="677" y="495" width="3" height="15" fill="#000"/>
<rect x="678" y="496" width="1" height="13" fill="#fff"/>
<rect x="682" y="445" width="1" height="10" fill="#000"/>
<rect x="682" y="470" width="1" height="29" fill="#000"/>
<rect x="681" y="455" width="3" height="15" fill="#000"/>
<rect x="682" y="456" width="1" height="13" fill="#fff"/>
<rect x="686" y="432" width="1" height="5" fill="#000"/>
<rect x="686" y="463" width="1" height="35" fill="#000"/>
<rect x="685" y="437" width="3" height="26" fill="#000"/>
<rect x="689" y="456" width="1" height="7" fill="#000"/>
<rect x="688" y="463" width="3" height="37" fill="#000"/>
<rect x="693" y="528" width="1" height="8" fill="#000"/>
<rect x="692" y="509" width="3" height="19" fill="#000"/>
<rect x="693" y="510" width="1" height="17" fill="#fff"/>
<rect x="697" y="494" width="1" height="18" fill="#000"/>
<rect x="696" y="484" width="3" height="10" fill="#000"/>
<rect x="697" y="485" width="1" height="8" fill="#fff"/>
<rect x="700" y="502" width="1" height="1" fill="#000"/>
<rect x="700" y="507" width="1" height="19" fill="#000"/>
<rect x="699" y="503" width="3" height="4" fill="#000"/>
<rect x="700" y="504" width="1" height="2" fill="#fff"/>
<rect x="704" y="514" width="1" height="11" fill="#000"/>
<rect x="704" y="527" width="1" height="10" fill="#000"/>
<rect x="703" y="525" width="3" height="2" fill="#000"/>
<rect x="708" y="516" width="1" height="2" fill="#000"/>
<rect x="708" y="529" width="1" height="1" fill="#000"/>
<rect x="707" y="518" width="3" height="11" fill="#000"/>
<rect x="711" y="523" width="1" height="2" fill="#000"/>
<rect x="711" y="550" width="1" height="2" fill="#000"/>
<rect x="710" y="525" width="3" height="25" fill="#000"/>
<rect x="95" y="651" width="3" height="6" fill="#ff0000"/>
<rect x="92" y="657" width="9" height="1" fill="#ff0000"/>
<rect x="93" y="658" width="7" height="1" fill="#ff0000"/>
<rect x="93" y="659" width="7" height="1" fill="#ff0000"/>
<rect x="94" y="660" width="5" height="1" fill="#ff0000"/>
<rect x="94" y="661" width="5" height="1" fill="#ff0000"/>
<rect x="95" y="662" width="3" height="1" fill="#ff0000"/>
<rect x="95" y="663" width="3" height="1" fill="#ff0000"/>
<rect x="96" y="664" width="1" height="1" fill="#ff0000"/>
<rect x="96" y="665" width="1" height="1" fill="#ff0000"/>
<rect x="187" y="639" width="3" height="6" fill="#ff0000"/>
<rect x="184" y="645" width="9" height="1" fill="#ff0000"/>
<rect x="185" y="646" width="7" height="1" fill="#ff0000"/>
<rect x="185" y="647" width="7" height="1" fill="#ff0000"/>
<rect x="186" y="648" width="5" height="1" fill="#ff0000"/>
<rect x="186" y="649" width="5" height="1" fill="#ff0000"/>
<rect x="187" y="650" width="3" height="1" fill="#ff0000"/>
<rect x="187" y="651" width="3" height="1" fill="#ff0000"/>
<rect x="188" y="652" width="1" height="1" fill="#ff0000"/>
<rect x="188" y="653" width="1" height="1" fill="#ff0000"/>
<rect x="249" y="623" width="3" height="6" fill="#ff0000"/>
<rect x="246" y="629" width="9" height="1" fill="#ff0000"/>
<rect x="247" y="630" width="7" height="1" fill="#ff0000"/>
<rect x="247" y="631" width="7" height="1" fill="#ff0000"/>
<rect x="248" y="632" width="5" height="1" fill="#ff0000"/>
<rect x="248" y="633" width="5" height="1" fill="#ff0000"/>
<rect x="249" y="634" width="3" height="1" fill="#ff0000"/>
<rect x="249" y="635" width="3" height="1" fill="#ff0000"/>
<rect x="250" y="636" width="1" height="1" fill="#ff0000"/>
<rect x="250" y="637" width="1" height="1" fill="#ff0000"/>
<rect x="381" y="581" width="3" height="6" fill="#ff0000"/>
<rect x="378" y="587" width="9" height="1" fill="#ff0000"/>
<rect x="379" y="588" width="7" height="1" fill="#ff0000"/>
<rect x="379" y="589" width="7" height="1" fill="#ff0000"/>
<rect x="380" y="590" width="5" height="1" fill="#ff0000"/>
<rect x="380" y="591" width="5" height="1" fill="#ff0000"/>
<rect x="381" y="592" width="3" height="1" fill="#ff0000"/>
<rect x="381" y="593" width="3" height="1" fill="#ff0000"/>
<rect x="382" y="594" width="1" height="1" fill="#ff0000"/>
<rect x="382" y="595" width="1" height="1" fill="#ff0000"/>
<rect x="432" y="553" width="3" height="6" fill="#ff0000"/>
<rect x="429" y="559" width="9" height="1" fill="#ff0000"/>
<rect x="430" y="560" width="7" height="1" fill="#ff0000"/>
<rect x="430" y="561" width="7" height="1" fill="#ff0000"/>
<rect x="431" y="562" width="5" height="1" fill="#ff0000"/>
<rect x="431" y="563" width="5" height="1" fill="#ff0000"/>
<rect x="432" y="564" width="3" height="1" fill="#ff0000"/>
<rect x="432" y="565" width="3" height="1" fill="#ff0000"/>
<rect x="433" y="566" width="1" height="1" fill="#ff0000"/>
<rect x="433" y="567" width="1" height="1" fill="#ff0000"/>
<rect x="545" y="610" width="3" height="6" fill="#ff0000"/>
<rect x="542" y="616" width="9" height="1" fill="#ff0000"/>
<rect x="543" y="617" width="7" height="1" fill="#ff0000"/>
<rect x="543" y="618" width="7" height="1" fill="#ff0000"/>
<rect x="544" y="619" width="5" height="1" fill="#ff0000"/>
<rect x="544" y="620" width="5" height="1" fill="#ff0000"/>
<rect x="545" y="621" width="3" height="1" fill="#ff0000"/>
<rect x="545" y="622" width="3" height="1" fill="#ff0000"/>
<rect x="546" y="623" width="1" height="1" fill="#ff0000"/>
<rect x="546" y="624" width="1" height="1" fill="#ff0000"/>
<rect x="575" y="609" width="3" height="6" fill="#ff0000"/>
<rect x="572" y="615" width="9" height="1" fill="#ff0000"/>
<rect x="573" y="616" width="7" height="1" fill="#ff0000"/>
<rect x="573" y="617" width="7" height="1" fill="#ff0000"/>
<rect x="574" y="618" width="5" height="1" fill="#ff0000"/>
<rect x="574" y="619" width="5" height="1" fill="#ff0000"/>
<rect x="575" y="620" width="3" height="1" fill="#ff0000"/>
<rect x="575" y="621" width="3" height="1" fill="#ff0000"/>
<rect x="576" y="622" width="1" height="1" fill="#ff0000"/>
<rect x="576" y="623" width="1" height="1" fill="#ff0000"/>
<rect x="699" y="479" width="3" height="6" fill="#ff0000"/>
<rect x="696" y="485" width="9" height="1" fill="#ff0000"/>
<rect x="697" y="486" width="7" height="1" fill="#ff0000"/>
<rect x="697" y="487" width="7" height="1" fill="#ff0000"/>
<rect x="698" y="488" width="5" height="1" fill="#ff0000"/>
<rect x="698" y="489" width="5" height="1" fill="#ff0000"/>
<rect x="699" y="490" width="3" height="1" fill="#ff0000"/>
<rect x="699" y="491" width="3" height="1" fill="#ff0000"/>
<rect x="700" y="492" width="1" height="1" fill="#ff0000"/>
<rect x="700" y="493" width="1" height="1" fill="#ff0000"/>
<rect x="3" y="416" width="1" height="316" fill="#000"/>
<rect x="719" y="416" width="1" height="316" fill="#000"/>
<rect x="3" y="731" width="717" height="1" fill="#000"/>
<rect x="3" y="416" width="7" height="1" fill="#000"/>
<rect x="397" y="416" width="323" height="1" fill="#000"/>
<text y="14"><tspan fill="#000" stroke="#000" x="762 769">11</tspan></text>
<text y="43"><tspan fill="#000" stroke="#000" x="762 769">10</tspan></text>
<text y="72"><tspan fill="#000" stroke="#000" x="769">9</tspan></text>
<text y="101"><tspan fill="#000" stroke="#000" x="769">8</tspan></text>
<text y="130"><tspan fill="#000" stroke="#000" x="769">7</tspan></text>
<text y="159"><tspan fill="#000" stroke="#000" x="769">6</tspan></text>
<text y="189"><tspan fill="#000" stroke="#000" x="769">5</tspan></text>
<text y="218"><tspan fill="#000" stroke="#000" x="769">4</tspan></text>
<text y="247"><tspan fill="#000" stroke="#000" x="769">3</tspan></text>
<text y="276"><tspan fill="#000" stroke="#000" x="769">2</tspan></text>
<text y="333"><tspan fill="#000" stroke="#000" x="755 762 769">100</tspan></text>
<text y="350"><tspan fill="#000" stroke="#000" x="762 769">80</tspan></text>
<text y="368"><tspan fill="#000" stroke="#000" x="762 769">60</tspan></text>
<text y="385"><tspan fill="#000" stroke="#000" x="762 769">40</tspan></text>
<text y="402"><tspan fill="#000" stroke="#000" x="762 769">20</tspan></text>
<text y="425"><tspan fill="#000" stroke="#000" x="762 769">11</tspan></text>
<text y="456"><tspan fill="#000" stroke="#000" x="762 769">10</tspan></text>
<text y="488"><tspan fill="#000" stroke="#000" x="769">9</tspan></text>
<text y="520"><tspan fill="#000" stroke="#000" x="769">8</tspan></text>
<text y="551"><tspan fill="#000" stroke="#000" x="769">7</tspan></text>
<text y="583"><tspan fill="#000" stroke="#000" x="769">6</tspan></text>
<text y="614"><tspan fill="#000" stroke="#000" x="769">5</tspan></text>
<text y="646"><tspan fill="#000" stroke="#000" x="769">4</tspan></text>
<text y="677"><tspan fill="#000" stroke="#000" x="769">3</tspan></text>
<text y="709"><tspan fill="#000" stroke="#000" x="769">2</tspan></text>
<rect x="10" y="0" width="416" height="14" fill="#fff"/>
<rect x="10" y="14" width="380" height="13" fill="#fff"/>
<text y="11"><tspan fill="#000" stroke="#000" x="10 17 24">ALM</tspan><tspan fill="#000" stroke="#000" x="36">-</tspan><tspan fill="#000" stroke="#000" x="43 52 59 62 65">Daily</tspan><tspan fill="#000" stroke="#000" x="73 80 87 94 101 105 112 119 123 130">2025-10-24</tspan><tspan fill="#000" stroke="#000" x="140 149 156 163">Open</tspan><tspan fill="#000" stroke="#000" x="173 180 183 190">7.71</tspan><tspan fill="#000" stroke="#000" x="203 212 215 222">High</tspan><tspan fill="#000" stroke="#000" x="232 239 242 249">7.79</tspan><tspan fill="#000" stroke="#000" x="262 269 276">Low</tspan><tspan fill="#000" stroke="#000" x="288 295 298 305">6.84</tspan><tspan fill="#000" stroke="#000" x="318 327 330 337 344">Close</tspan><tspan fill="#000" stroke="#000" x="354 361 364 371">6.95</tspan><tspan fill="#000" stroke="#000" x="381 385 389 396 399 406 417">(-8.8%)</tspan></text>
<text y="25"><tspan fill="#000" stroke="#000" x="10 17 24">Vol</tspan><tspan fill="#000" stroke="#000" x="30 37 40 47 54 61 64 71 78">3,073,820</tspan><tspan fill="#ff00ff" stroke="#ff00ff" x="88 97 104 111 115">Res-1</tspan><tspan fill="#000" stroke="#000" x="125">=</tspan><tspan fill="#000" stroke="#000" x="135 142 145 152 159">8.83,</tspan><tspan fill="#ff0000" stroke="#ff0000" x="165 174 181 188 192">Res-2</tspan><tspan fill="#000" stroke="#000" x="202">=</tspan><tspan fill="#000" stroke="#000" x="212 219 222 229 236">8.83,</tspan><tspan fill="#0000ff" stroke="#0000ff" x="242 250 257 264 268">Sup-1</tspan><tspan fill="#000" stroke="#000" x="278">=</tspan><tspan fill="#000" stroke="#000" x="288 295 298 305 312">6.30,</tspan><tspan fill="#009900" stroke="#009900" x="318 326 333 340 344">Sup-2</tspan><tspan fill="#000" stroke="#000" x="354">=</tspan><tspan fill="#000" stroke="#000" x="364 371 374 381">4.24</tspan></text>
<rect x="10" y="314" width="347" height="13" fill="#fff"/>
<text y="325"><tspan fill="#000" stroke="#000" x="10 17 24">ALM</tspan><tspan fill="#000" stroke="#000" x="36">-</tspan><tspan fill="#ff0000" stroke="#ff0000" x="43 50 53 60">Line</tspan><tspan fill="#000" stroke="#000" x="70">=</tspan><tspan fill="#000" stroke="#000" x="80 87 94 97 104 111">31.73,</tspan><tspan fill="#000" stroke="#000" x="117 124 131">Top</tspan><tspan fill="#000" stroke="#000" x="141">=</tspan><tspan fill="#000" stroke="#000" x="151 158 165 168 175 182">87.20,</tspan><tspan fill="#000" stroke="#000" x="188 196 203 206 209 216">Bottom</tspan><tspan fill="#000" stroke="#000" x="230">=</tspan><tspan fill="#000" stroke="#000" x="240 247 254 257 264 271">33.23,</tspan><tspan fill="#0000ff" stroke="#0000ff" x="277 285 288 295 302 309">Signal</tspan><tspan fill="#000" stroke="#000" x="315">=</tspan><tspan fill="#000" stroke="#000" x="325 332 339 342 349">48.34</tspan></text>
<rect x="10" y="411" width="387" height="14" fill="#fff"/>
<rect x="10" y="425" width="310" height="13" fill="#fff"/>
<text y="422"><tspan fill="#000" stroke="#000" x="10 17 24">ALM</tspan><tspan fill="#000" stroke="#000" x="36">-</tspan><tspan fill="#000" stroke="#000" x="43 52 59 62 65">Daily</tspan><tspan fill="#000" stroke="#000" x="73 80 87 94 101 105 112 119 123 130">2025-10-24</tspan><tspan fill="#000" stroke="#000" x="140 149 156 163">Open</tspan><tspan fill="#000" stroke="#000" x="173 180 183 190 197 200 209">7.71,Hi</tspan><tspan fill="#000" stroke="#000" x="215 222 225 232 239 242 249">7.79,Lo</tspan><tspan fill="#000" stroke="#000" x="259 266 269 276 283">6.84,</tspan><tspan fill="#000" stroke="#000" x="289 298 301 308 315">Close</tspan><tspan fill="#000" stroke="#000" x="325 332 335 342">6.95</tspan><tspan fill="#000" stroke="#000" x="352 356 360 367 370 377 388">(-8.8%)</tspan></text>
<text y="436"><tspan fill="#000" stroke="#000" x="10 17 24">Vol</tspan><tspan fill="#000" stroke="#000" x="30 37 44 51 54 61 68 75 78 85 92">307,382,016</tspan><tspan fill="#ff0000" stroke="#ff0000" x="102 109 116">Top</tspan><tspan fill="#000" stroke="#000" x="126">=</tspan><tspan fill="#000" stroke="#000" x="136 143 146 153 160">9.90,</tspan><tspan fill="#009900" stroke="#009900" x="166 174 181 184 187 194">Bottom</tspan><tspan fill="#000" stroke="#000" x="208">=</tspan><tspan fill="#000" stroke="#000" x="218 225 228 235 242">3.30,</tspan><tspan fill="#0000ff" stroke="#0000ff" x="248 255 259 266 273">Trend</tspan><tspan fill="#000" stroke="#000" x="283">=</tspan><tspan fill="#000" stroke="#000" x="293 300 303 310">8.35</tspan></text>
<text y="310"><tspan fill="#000" stroke="#000" x="9 16 23 30">2025</tspan></text>
<rect x="41" y="299" width="1" height="7" fill="#000"/>
<text y="310"><tspan fill="#000" stroke="#000" x="45 52 59">Feb</tspan></text>
<rect x="111" y="299" width="1" height="7" fill="#000"/>
<text y="310"><tspan fill="#000" stroke="#000" x="115 124 131">Mar</tspan></text>
<rect x="188" y="299" width="1" height="7" fill="#000"/>
<text y="310"><tspan fill="#000" stroke="#000" x="192 199 206">Apr</tspan></text>
<rect x="264" y="299" width="1" height="7" fill="#000"/>
<text y="310"><tspan fill="#000" stroke="#000" x="268 277 284">May</tspan></text>
<rect x="341" y="299" width="1" height="7" fill="#000"/>
<text y="310"><tspan fill="#000" stroke="#000" x="345 351 358">Jun</tspan></text>
<rect x="415" y="299" width="1" height="7" fill="#000"/>
<text y="310"><tspan fill="#000" stroke="#000" x="419 425 432">Jul</tspan></text>
<rect x="495" y="299" width="1" height="7" fill="#000"/>
<text y="310"><tspan fill="#000" stroke="#000" x="499 506 513">Aug</tspan></text>
<rect x="572" y="299" width="1" height="7" fill="#000"/>
<text y="310"><tspan fill="#000" stroke="#000" x="576 584 591">Sep</tspan></text>
<rect x="649" y="299" width="1" height="7" fill="#000"/>
<text y="310"><tspan fill="#000" stroke="#000" x="653 662 668">Oct</tspan></text>
<text y="743"><tspan fill="#000" stroke="#000" x="9 16 23 30">2025</tspan></text>
<rect x="41" y="732" width="1" height="7" fill="#000"/>
<text y="743"><tspan fill="#000" stroke="#000" x="45 52 59">Feb</tspan></text>
<rect x="111" y="732" width="1" height="7" fill="#000"/>
<text y="743"><tspan fill="#000" stroke="#000" x="115 124 131">Mar</tspan></text>
<rect x="188" y="732" width="1" height="7" fill="#000"/>
<text y="743"><tspan fill="#000" stroke="#000" x="192 199 206">Apr</tspan></text>
<rect x="264" y="732" width="1" height="7" fill="#000"/>
<text y="743"><tspan fill="#000" stroke="#000" x="268 277 284">May</tspan></text>
<rect x="341" y="732" width="1" height="7" fill="#000"/>
<text y="743"><tspan fill="#000" stroke="#000" x="345 351 358">Jun</tspan></text>
<rect x="415" y="732" width="1" height="7" fill="#000"/>
<text y="743"><tspan fill="#000" stroke="#000" x="419 425 432">Jul</tspan></text>
<rect x="495" y="732" width="1" height="7" fill="#000"/>
<text y="743"><tspan fill="#000" stroke="#000" x="499 506 513">Aug</tspan></text>
<rect x="572" y="732" width="1" height="7" fill="#000"/>
<text y="743"><tspan fill="#000" stroke="#000" x="576 584 591">Sep</tspan></text>
<rect x="649" y="732" width="1" height="7" fill="#000"/>
<text y="743"><tspan fill="#000" stroke="#000" x="653 662 668">Oct</tspan></text>
<rect x="15" y="727" width="1" height="1" fill="#009900"/>
<rect x="15" y="728" width="1" height="1" fill="#009900"/>
<rect x="14" y="729" width="3" height="1" fill="#009900"/>
<rect x="14" y="730" width="3" height="1" fill="#009900"/>
<rect x="13" y="731" width="5" height="1" fill="#009900"/>
<rect x="13" y="732" width="5" height="1" fill="#009900"/>
<rect x="12" y="733" width="7" height="1" fill="#009900"/>
<rect x="12" y="734" width="7" height="1" fill="#009900"/>
<rect x="11" y="735" width="9" height="1" fill="#009900"/>
<rect x="14" y="736" width="3" height="6" fill="#009900"/>
<rect x="151" y="686" width="1" height="1" fill="#009900"/>
<rect x="151" y="687" width="1" height="1" fill="#009900"/>
<rect x="150" y="688" width="3" height="1" fill="#009900"/>
<rect x="150" y="689" width="3" height="1" fill="#009900"/>
<rect x="149" y="690" width="5" height="1" fill="#009900"/>
<rect x="149" y="691" width="5" height="1" fill="#009900"/>
<rect x="148" y="692" width="7" height="1" fill="#009900"/>
<rect x="148" y="693" width="7" height="1" fill="#009900"/>
<rect x="147" y="694" width="9" height="1" fill="#009900"/>
<rect x="150" y="695" width="3" height="6" fill="#009900"/>
<rect x="221" y="668" width="1" height="1" fill="#009900"/>
<rect x="221" y="669" width="1" height="1" fill="#009900"/>
<rect x="220" y="670" width="3" height="1" fill="#009900"/>
<rect x="220" y="671" width="3" height="1" fill="#009900"/>
<rect x="219" y="672" width="5" height="1" fill="#009900"/>
<rect x="219" y="673" width="5" height="1" fill="#009900"/>
<rect x="218" y="674" width="7" height="1" fill="#009900"/>
<rect x="218" y="675" width="7" height="1" fill="#009900"/>
<rect x="217" y="676" width="9" height="1" fill="#009900"/>
<rect x="220" y="677" width="3" height="6" fill="#009900"/>
<rect x="312" y="656" width="1" height="1" fill="#009900"/>
<rect x="312" y="657" width="1" height="1" fill="#009900"/>
<rect x="311" y="658" width="3" height="1" fill="#009900"/>
<rect x="311" y="659" width="3" height="1" fill="#009900"/>
<rect x="310" y="660" width="5" height="1" fill="#009900"/>
<rect x="310" y="661" width="5" height="1" fill="#009900"/>
<rect x="309" y="662" width="7" height="1" fill="#009900"/>
<rect x="309" y="663" width="7" height="1" fill="#009900"/>
<rect x="308" y="664" width="9" height="1" fill="#009900"/>
<rect x="311" y="665" width="3" height="6" fill="#009900"/>
<rect x="400" y="602" width="1" height="1" fill="#009900"/>
<rect x="400" y="603" width="1" height="1" fill="#009900"/>
<rect x="399" y="604" width="3" height="1" fill="#009900"/>
<rect x="399" y="605" width="3" height="1" fill="#009900"/>
<rect x="398" y="606" width="5" height="1" fill="#009900"/>
<rect x="398" y="607" width="5" height="1" fill="#009900"/>
<rect x="397" y="608" width="7" height="1" fill="#009900"/>
<rect x="397" y="609" width="7" height="1" fill="#009900"/>
<rect x="396" y="610" width="9" height="1" fill="#009900"/>
<rect x="399" y="611" width="3" height="6" fill="#009900"/>
<rect x="502" y="645" width="1" height="1" fill="#009900"/>
<rect x="502" y="646" width="1" height="1" fill="#009900"/>
<rect x="501" y="647" width="3" height="1" fill="#009900"/>
<rect x="501" y="648" width="3" height="1" fill="#009900"/>
<rect x="500" y="649" width="5" height="1" fill="#009900"/>
<rect x="500" y="650" width="5" height="1" fill="#009900"/>
<rect x="499" y="651" width="7" height="1" fill="#009900"/>
<rect x="499" y="652" width="7" height="1" fill="#009900"/>
<rect x="498" y="653" width="9" height="1" fill="#009900"/>
<rect x="501" y="654" width="3" height="6" fill="#009900"/>
<rect x="594" y="639" width="1" height="1" fill="#009900"/>
<rect x="594" y="640" width="1" height="1" fill="#009900"/>
<rect x="593" y="641" width="3" height="1" fill="#009900"/>
<rect x="593" y="642" width="3" height="1" fill="#009900"/>
<rect x="592" y="643" width="5" height="1" fill="#009900"/>
<rect x="592" y="644" width="5" height="1" fill="#009900"/>
<rect x="591" y="645" width="7" height="1" fill="#009900"/>
<rect x="591" y="646" width="7" height="1" fill="#009900"/>
<rect x="590" y="647" width="9" height="1" fill="#009900"/>
<rect x="593" y="648" width="3" height="6" fill="#009900"/>
</svg></body></html>
